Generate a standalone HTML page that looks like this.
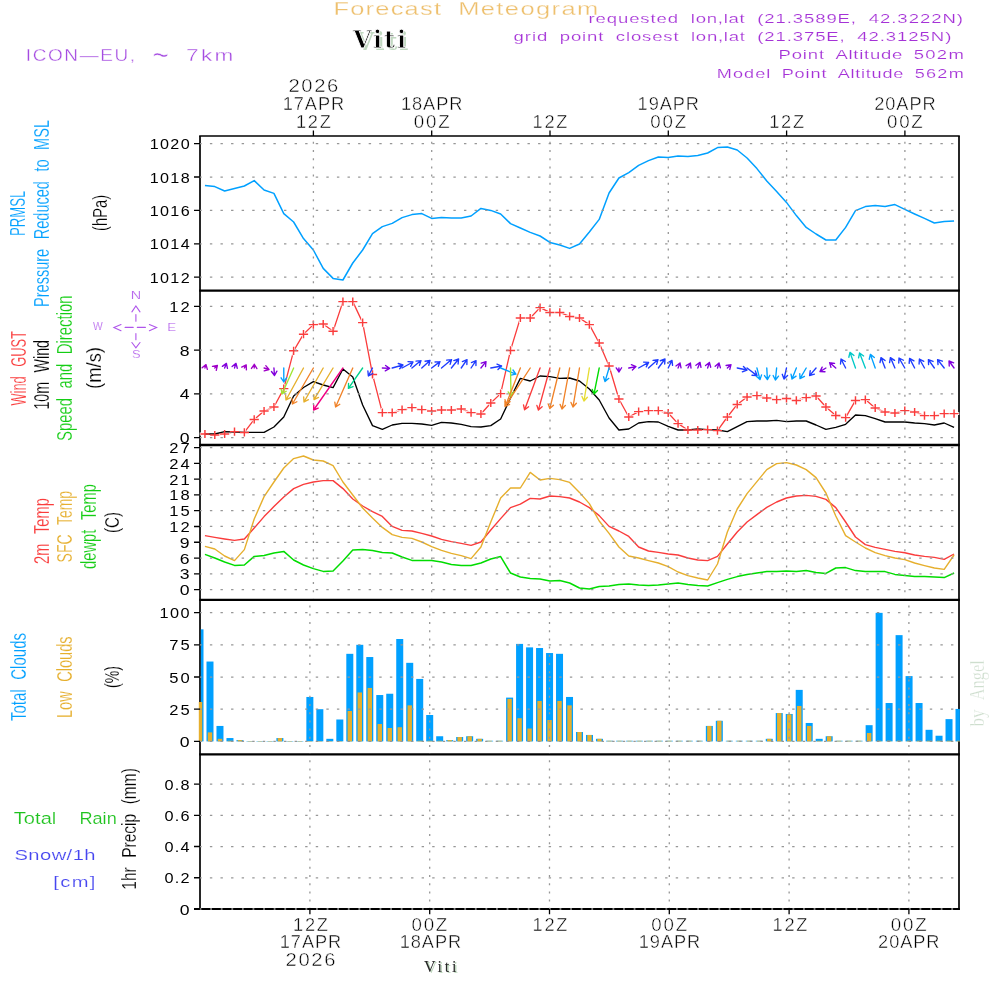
<!DOCTYPE html>
<html><head><meta charset="utf-8"><title>Forecast Meteogram - Viti</title>
<style>html,body{margin:0;padding:0;background:#fff;width:1000px;height:1000px;overflow:hidden}svg{display:block}</style>
</head><body>
<svg width="1000" height="1000" viewBox="0 0 1000 1000">
<rect x="0" y="0" width="1000" height="1000" fill="#fff"/>
<g stroke="#000" fill="none">
<line x1="199.2" y1="136" x2="959.8" y2="136" stroke-width="1.7"/>
<line x1="199.2" y1="290.6" x2="959.8" y2="290.6" stroke-width="2.3"/>
<line x1="199.2" y1="445" x2="959.8" y2="445" stroke-width="2.3"/>
<line x1="199.2" y1="599.8" x2="959.8" y2="599.8" stroke-width="2.3"/>
<line x1="199.2" y1="754.4" x2="959.8" y2="754.4" stroke-width="2.3"/>
<line x1="194" y1="909" x2="959.8" y2="909" stroke-width="2.1"/>
<line x1="200" y1="136" x2="200" y2="910" stroke-width="1.7"/>
<line x1="959" y1="136" x2="959" y2="910" stroke-width="1.7"/>
</g>
<line x1="199.6" y1="909" x2="959" y2="909" stroke="#a8a8a8" stroke-width="1.6" stroke-dasharray="1.8 8.787"/>
<rect x="200.85" y="629.34" width="2.65" height="112.06" fill="rgb(0,160,255)"/>
<rect x="198.8" y="701.99" width="3.4" height="39.41" fill="rgb(230,175,45)"/>
<rect x="206.49" y="661.54" width="7" height="79.86" fill="rgb(0,160,255)"/>
<rect x="207.79" y="732.38" width="4.4" height="9.02" fill="rgb(230,175,45)"/>
<rect x="216.47" y="725.94" width="7" height="15.46" fill="rgb(0,160,255)"/>
<rect x="217.77" y="738.82" width="4.4" height="2.58" fill="rgb(230,175,45)"/>
<rect x="226.46" y="738.05" width="7" height="3.35" fill="rgb(0,160,255)"/>
<rect x="227.76" y="740.76" width="4.4" height="0.64" fill="rgb(230,175,45)"/>
<rect x="236.45" y="740.11" width="7" height="1.29" fill="rgb(0,160,255)"/>
<rect x="237.75" y="740.11" width="4.4" height="1.29" fill="rgb(230,175,45)"/>
<rect x="246.44" y="741.01" width="7" height="0.39" fill="rgb(0,160,255)"/>
<rect x="247.74" y="741.01" width="4.4" height="0.39" fill="rgb(230,175,45)"/>
<rect x="256.42" y="741.01" width="7" height="0.39" fill="rgb(0,160,255)"/>
<rect x="257.72" y="741.01" width="4.4" height="0.39" fill="rgb(230,175,45)"/>
<rect x="266.41" y="741.01" width="7" height="0.39" fill="rgb(0,160,255)"/>
<rect x="267.71" y="741.01" width="4.4" height="0.39" fill="rgb(230,175,45)"/>
<rect x="276.4" y="738.05" width="7" height="3.35" fill="rgb(0,160,255)"/>
<rect x="277.7" y="738.05" width="4.4" height="3.35" fill="rgb(230,175,45)"/>
<rect x="286.38" y="741.01" width="7" height="0.39" fill="rgb(0,160,255)"/>
<rect x="287.68" y="741.01" width="4.4" height="0.39" fill="rgb(230,175,45)"/>
<rect x="296.37" y="741.01" width="7" height="0.39" fill="rgb(0,160,255)"/>
<rect x="297.67" y="741.01" width="4.4" height="0.39" fill="rgb(230,175,45)"/>
<rect x="306.36" y="696.96" width="7" height="44.44" fill="rgb(0,160,255)"/>
<rect x="307.66" y="741.01" width="4.4" height="0.39" fill="rgb(230,175,45)"/>
<rect x="316.34" y="709.2" width="7" height="32.2" fill="rgb(0,160,255)"/>
<rect x="317.64" y="741.01" width="4.4" height="0.39" fill="rgb(230,175,45)"/>
<rect x="326.33" y="738.82" width="7" height="2.58" fill="rgb(0,160,255)"/>
<rect x="327.63" y="741.01" width="4.4" height="0.39" fill="rgb(230,175,45)"/>
<rect x="336.32" y="719.5" width="7" height="21.9" fill="rgb(0,160,255)"/>
<rect x="337.62" y="741.01" width="4.4" height="0.39" fill="rgb(230,175,45)"/>
<rect x="346.31" y="653.82" width="7" height="87.58" fill="rgb(0,160,255)"/>
<rect x="347.61" y="711" width="4.4" height="30.4" fill="rgb(230,175,45)"/>
<rect x="356.29" y="644.8" width="7" height="96.6" fill="rgb(0,160,255)"/>
<rect x="357.59" y="692.46" width="4.4" height="48.94" fill="rgb(230,175,45)"/>
<rect x="366.28" y="657.04" width="7" height="84.36" fill="rgb(0,160,255)"/>
<rect x="367.58" y="687.95" width="4.4" height="53.45" fill="rgb(230,175,45)"/>
<rect x="376.27" y="695.03" width="7" height="46.37" fill="rgb(0,160,255)"/>
<rect x="377.57" y="724.01" width="4.4" height="17.39" fill="rgb(230,175,45)"/>
<rect x="386.25" y="693.74" width="7" height="47.66" fill="rgb(0,160,255)"/>
<rect x="387.55" y="728" width="4.4" height="13.4" fill="rgb(230,175,45)"/>
<rect x="396.24" y="639" width="7" height="102.4" fill="rgb(0,160,255)"/>
<rect x="397.54" y="727.23" width="4.4" height="14.17" fill="rgb(230,175,45)"/>
<rect x="406.23" y="662.83" width="7" height="78.57" fill="rgb(0,160,255)"/>
<rect x="407.53" y="705.34" width="4.4" height="36.06" fill="rgb(230,175,45)"/>
<rect x="416.21" y="678.93" width="7" height="62.47" fill="rgb(0,160,255)"/>
<rect x="417.51" y="740.76" width="4.4" height="0.64" fill="rgb(230,175,45)"/>
<rect x="426.2" y="715" width="7" height="26.4" fill="rgb(0,160,255)"/>
<rect x="427.5" y="740.76" width="4.4" height="0.64" fill="rgb(230,175,45)"/>
<rect x="436.19" y="736.25" width="7" height="5.15" fill="rgb(0,160,255)"/>
<rect x="437.49" y="740.76" width="4.4" height="0.64" fill="rgb(230,175,45)"/>
<rect x="446.18" y="740.11" width="7" height="1.29" fill="rgb(0,160,255)"/>
<rect x="447.48" y="740.11" width="4.4" height="1.29" fill="rgb(230,175,45)"/>
<rect x="456.16" y="737.02" width="7" height="4.38" fill="rgb(0,160,255)"/>
<rect x="457.46" y="737.02" width="4.4" height="4.38" fill="rgb(230,175,45)"/>
<rect x="466.15" y="736.25" width="7" height="5.15" fill="rgb(0,160,255)"/>
<rect x="467.45" y="736.25" width="4.4" height="5.15" fill="rgb(230,175,45)"/>
<rect x="476.14" y="738.82" width="7" height="2.58" fill="rgb(0,160,255)"/>
<rect x="477.44" y="738.82" width="4.4" height="2.58" fill="rgb(230,175,45)"/>
<rect x="486.12" y="740.76" width="7" height="0.64" fill="rgb(0,160,255)"/>
<rect x="487.42" y="740.76" width="4.4" height="0.64" fill="rgb(230,175,45)"/>
<rect x="496.11" y="740.76" width="7" height="0.64" fill="rgb(0,160,255)"/>
<rect x="497.41" y="740.76" width="4.4" height="0.64" fill="rgb(230,175,45)"/>
<rect x="506.1" y="697.61" width="7" height="43.79" fill="rgb(0,160,255)"/>
<rect x="507.4" y="698.9" width="4.4" height="42.5" fill="rgb(230,175,45)"/>
<rect x="516.08" y="643.9" width="7" height="97.5" fill="rgb(0,160,255)"/>
<rect x="517.38" y="718.22" width="4.4" height="23.18" fill="rgb(230,175,45)"/>
<rect x="526.07" y="647.38" width="7" height="94.02" fill="rgb(0,160,255)"/>
<rect x="527.37" y="728.52" width="4.4" height="12.88" fill="rgb(230,175,45)"/>
<rect x="536.06" y="648.02" width="7" height="93.38" fill="rgb(0,160,255)"/>
<rect x="537.36" y="700.96" width="4.4" height="40.44" fill="rgb(230,175,45)"/>
<rect x="546.05" y="653.04" width="7" height="88.36" fill="rgb(0,160,255)"/>
<rect x="547.35" y="720.02" width="4.4" height="21.38" fill="rgb(230,175,45)"/>
<rect x="556.03" y="653.82" width="7" height="87.58" fill="rgb(0,160,255)"/>
<rect x="557.33" y="700.96" width="4.4" height="40.44" fill="rgb(230,175,45)"/>
<rect x="566.02" y="696.96" width="7" height="44.44" fill="rgb(0,160,255)"/>
<rect x="567.32" y="705.34" width="4.4" height="36.06" fill="rgb(230,175,45)"/>
<rect x="576.01" y="732" width="7" height="9.4" fill="rgb(0,160,255)"/>
<rect x="577.31" y="732" width="4.4" height="9.4" fill="rgb(230,175,45)"/>
<rect x="585.99" y="734.96" width="7" height="6.44" fill="rgb(0,160,255)"/>
<rect x="587.29" y="734.96" width="4.4" height="6.44" fill="rgb(230,175,45)"/>
<rect x="595.98" y="738.82" width="7" height="2.58" fill="rgb(0,160,255)"/>
<rect x="597.28" y="738.82" width="4.4" height="2.58" fill="rgb(230,175,45)"/>
<rect x="605.97" y="740.76" width="7" height="0.64" fill="rgb(0,160,255)"/>
<rect x="607.27" y="740.76" width="4.4" height="0.64" fill="rgb(230,175,45)"/>
<rect x="615.95" y="740.76" width="7" height="0.64" fill="rgb(0,160,255)"/>
<rect x="617.25" y="740.76" width="4.4" height="0.64" fill="rgb(230,175,45)"/>
<rect x="625.94" y="740.76" width="7" height="0.64" fill="rgb(0,160,255)"/>
<rect x="627.24" y="740.76" width="4.4" height="0.64" fill="rgb(230,175,45)"/>
<rect x="635.93" y="740.76" width="7" height="0.64" fill="rgb(0,160,255)"/>
<rect x="637.23" y="740.76" width="4.4" height="0.64" fill="rgb(230,175,45)"/>
<rect x="645.91" y="740.76" width="7" height="0.64" fill="rgb(0,160,255)"/>
<rect x="647.21" y="740.76" width="4.4" height="0.64" fill="rgb(230,175,45)"/>
<rect x="655.9" y="740.76" width="7" height="0.64" fill="rgb(0,160,255)"/>
<rect x="657.2" y="740.76" width="4.4" height="0.64" fill="rgb(230,175,45)"/>
<rect x="665.89" y="740.76" width="7" height="0.64" fill="rgb(0,160,255)"/>
<rect x="667.19" y="740.76" width="4.4" height="0.64" fill="rgb(230,175,45)"/>
<rect x="675.88" y="740.76" width="7" height="0.64" fill="rgb(0,160,255)"/>
<rect x="677.18" y="740.76" width="4.4" height="0.64" fill="rgb(230,175,45)"/>
<rect x="685.86" y="740.76" width="7" height="0.64" fill="rgb(0,160,255)"/>
<rect x="687.16" y="740.76" width="4.4" height="0.64" fill="rgb(230,175,45)"/>
<rect x="695.85" y="740.76" width="7" height="0.64" fill="rgb(0,160,255)"/>
<rect x="697.15" y="740.76" width="4.4" height="0.64" fill="rgb(230,175,45)"/>
<rect x="705.84" y="725.94" width="7" height="15.46" fill="rgb(0,160,255)"/>
<rect x="707.14" y="725.94" width="4.4" height="15.46" fill="rgb(230,175,45)"/>
<rect x="715.82" y="720.79" width="7" height="20.61" fill="rgb(0,160,255)"/>
<rect x="717.12" y="720.79" width="4.4" height="20.61" fill="rgb(230,175,45)"/>
<rect x="725.81" y="740.76" width="7" height="0.64" fill="rgb(0,160,255)"/>
<rect x="727.11" y="740.76" width="4.4" height="0.64" fill="rgb(230,175,45)"/>
<rect x="735.8" y="740.76" width="7" height="0.64" fill="rgb(0,160,255)"/>
<rect x="737.1" y="740.76" width="4.4" height="0.64" fill="rgb(230,175,45)"/>
<rect x="745.78" y="740.76" width="7" height="0.64" fill="rgb(0,160,255)"/>
<rect x="747.08" y="740.76" width="4.4" height="0.64" fill="rgb(230,175,45)"/>
<rect x="755.77" y="740.76" width="7" height="0.64" fill="rgb(0,160,255)"/>
<rect x="757.07" y="740.76" width="4.4" height="0.64" fill="rgb(230,175,45)"/>
<rect x="765.76" y="738.82" width="7" height="2.58" fill="rgb(0,160,255)"/>
<rect x="767.06" y="738.82" width="4.4" height="2.58" fill="rgb(230,175,45)"/>
<rect x="775.75" y="713.06" width="7" height="28.34" fill="rgb(0,160,255)"/>
<rect x="777.05" y="713.06" width="4.4" height="28.34" fill="rgb(230,175,45)"/>
<rect x="785.73" y="713.97" width="7" height="27.43" fill="rgb(0,160,255)"/>
<rect x="787.03" y="714.35" width="4.4" height="27.05" fill="rgb(230,175,45)"/>
<rect x="795.72" y="689.88" width="7" height="51.52" fill="rgb(0,160,255)"/>
<rect x="797.02" y="705.98" width="4.4" height="35.42" fill="rgb(230,175,45)"/>
<rect x="805.71" y="722.98" width="7" height="18.42" fill="rgb(0,160,255)"/>
<rect x="807.01" y="725.94" width="4.4" height="15.46" fill="rgb(230,175,45)"/>
<rect x="815.69" y="738.82" width="7" height="2.58" fill="rgb(0,160,255)"/>
<rect x="816.99" y="740.76" width="4.4" height="0.64" fill="rgb(230,175,45)"/>
<rect x="825.68" y="736.25" width="7" height="5.15" fill="rgb(0,160,255)"/>
<rect x="826.98" y="736.25" width="4.4" height="5.15" fill="rgb(230,175,45)"/>
<rect x="835.67" y="740.76" width="7" height="0.64" fill="rgb(0,160,255)"/>
<rect x="836.97" y="740.76" width="4.4" height="0.64" fill="rgb(230,175,45)"/>
<rect x="845.65" y="740.76" width="7" height="0.64" fill="rgb(0,160,255)"/>
<rect x="846.95" y="740.76" width="4.4" height="0.64" fill="rgb(230,175,45)"/>
<rect x="855.64" y="740.76" width="7" height="0.64" fill="rgb(0,160,255)"/>
<rect x="856.94" y="740.76" width="4.4" height="0.64" fill="rgb(230,175,45)"/>
<rect x="865.63" y="725.17" width="7" height="16.23" fill="rgb(0,160,255)"/>
<rect x="866.93" y="733.03" width="4.4" height="8.37" fill="rgb(230,175,45)"/>
<rect x="875.62" y="612.86" width="7" height="128.54" fill="rgb(0,160,255)"/>
<rect x="876.92" y="740.76" width="4.4" height="0.64" fill="rgb(230,175,45)"/>
<rect x="885.6" y="703.02" width="7" height="38.38" fill="rgb(0,160,255)"/>
<rect x="886.9" y="740.76" width="4.4" height="0.64" fill="rgb(230,175,45)"/>
<rect x="895.59" y="635.14" width="7" height="106.26" fill="rgb(0,160,255)"/>
<rect x="896.89" y="740.76" width="4.4" height="0.64" fill="rgb(230,175,45)"/>
<rect x="905.58" y="676.1" width="7" height="65.3" fill="rgb(0,160,255)"/>
<rect x="906.88" y="740.76" width="4.4" height="0.64" fill="rgb(230,175,45)"/>
<rect x="915.56" y="703.02" width="7" height="38.38" fill="rgb(0,160,255)"/>
<rect x="916.86" y="740.76" width="4.4" height="0.64" fill="rgb(230,175,45)"/>
<rect x="925.55" y="729.81" width="7" height="11.59" fill="rgb(0,160,255)"/>
<rect x="926.85" y="740.76" width="4.4" height="0.64" fill="rgb(230,175,45)"/>
<rect x="935.54" y="735.73" width="7" height="5.67" fill="rgb(0,160,255)"/>
<rect x="936.84" y="740.76" width="4.4" height="0.64" fill="rgb(230,175,45)"/>
<rect x="945.52" y="719.12" width="7" height="22.28" fill="rgb(0,160,255)"/>
<rect x="946.82" y="740.76" width="4.4" height="0.64" fill="rgb(230,175,45)"/>
<rect x="955.51" y="708.94" width="4.39" height="32.46" fill="rgb(0,160,255)"/>
<rect x="956.81" y="740.76" width="3.09" height="0.64" fill="rgb(230,175,45)"/>
<polyline points="204.93,185.4 214.79,186.6 224.64,191 234.5,188.6 244.36,186 254.21,180.6 264.07,190 273.93,193.4 283.78,213.6 293.64,222 303.5,238.6 313.36,250 323.21,268.4 333.07,278.4 342.93,280 352.78,263 362.64,250 372.5,233.6 382.35,226.6 392.21,223.4 402.07,217.6 411.93,214.6 421.78,213.6 431.64,218.4 441.5,217.6 451.35,218 461.21,218 471.07,216 480.92,208.4 490.78,210.4 500.64,214 510.5,223.6 520.35,228 530.21,232.4 540.07,236 549.92,242.4 559.78,245 569.64,248.4 579.49,244 589.35,232 599.21,219.4 609.07,193 618.92,178 628.78,172.6 638.64,165.4 648.49,160.6 658.35,157 668.21,157.6 678.06,156 687.92,156.4 697.78,155.6 707.64,153 717.49,147.6 727.35,147 737.21,150 747.06,158 756.92,168.6 766.78,181 776.63,191.6 786.49,202.4 796.35,215.6 806.21,227.4 816.06,234 825.92,240 835.78,240 845.63,227.4 855.49,210.6 865.35,206.6 875.2,205.6 885.06,206.6 894.92,204.6 904.78,209.4 914.63,214 924.49,218.4 934.35,223 944.2,221.6 954.06,221" fill="none" stroke="rgb(0,160,255)" stroke-width="1.5" stroke-linejoin="round"/>
<polyline points="204.93,434 214.79,435 224.64,434 234.5,431.6 244.36,432.4 254.21,419.4 264.07,411 273.93,407 283.78,388.6 293.64,350.8 303.5,334.2 313.36,324.6 323.21,324 333.07,331.2 342.93,301.6 352.78,301.6 362.64,322.6 372.5,374.4 382.35,412.6 392.21,412.6 402.07,409.6 411.93,407.6 421.78,409.6 431.64,411 441.5,410 451.35,410 461.21,409 471.07,412.6 480.92,414 490.78,403 500.64,393.6 510.5,350.4 520.35,318 530.21,318 540.07,307.6 549.92,312.4 559.78,312.4 569.64,316.4 579.49,318 589.35,324.6 599.21,343 609.07,366 618.92,399 628.78,417 638.64,411.6 648.49,410.6 658.35,410.6 668.21,413 678.06,423.6 687.92,430 697.78,430 707.64,429.6 717.49,430.6 727.35,417 737.21,404.4 747.06,397 756.92,395.6 766.78,398 776.63,399.6 786.49,398.4 796.35,400.4 806.21,397.6 816.06,396 825.92,407 835.78,415.4 845.63,417.6 855.49,400.4 865.35,399.6 875.2,408 885.06,412 894.92,413 904.78,410.6 914.63,412 924.49,415.6 934.35,415.6 944.2,413.6 954.06,413.6" fill="none" stroke="rgb(250,60,60)" stroke-width="1.3" stroke-linejoin="round"/>
<path d="M199.73 434H210.13M204.93 429.3V438.7" stroke="#fff" stroke-width="2.8"/>
<path d="M209.59 435H219.99M214.79 430.3V439.7" stroke="#fff" stroke-width="2.8"/>
<path d="M219.44 434H229.84M224.64 429.3V438.7" stroke="#fff" stroke-width="2.8"/>
<path d="M229.3 431.6H239.7M234.5 426.9V436.3" stroke="#fff" stroke-width="2.8"/>
<path d="M239.16 432.4H249.56M244.36 427.7V437.1" stroke="#fff" stroke-width="2.8"/>
<path d="M249.01 419.4H259.41M254.21 414.7V424.1" stroke="#fff" stroke-width="2.8"/>
<path d="M258.87 411H269.27M264.07 406.3V415.7" stroke="#fff" stroke-width="2.8"/>
<path d="M268.73 407H279.13M273.93 402.3V411.7" stroke="#fff" stroke-width="2.8"/>
<path d="M278.58 388.6H288.98M283.78 383.9V393.3" stroke="#fff" stroke-width="2.8"/>
<path d="M288.44 350.8H298.84M293.64 346.1V355.5" stroke="#fff" stroke-width="2.8"/>
<path d="M298.3 334.2H308.7M303.5 329.5V338.9" stroke="#fff" stroke-width="2.8"/>
<path d="M308.16 324.6H318.56M313.36 319.9V329.3" stroke="#fff" stroke-width="2.8"/>
<path d="M318.01 324H328.41M323.21 319.3V328.7" stroke="#fff" stroke-width="2.8"/>
<path d="M327.87 331.2H338.27M333.07 326.5V335.9" stroke="#fff" stroke-width="2.8"/>
<path d="M337.73 301.6H348.13M342.93 296.9V306.3" stroke="#fff" stroke-width="2.8"/>
<path d="M347.58 301.6H357.98M352.78 296.9V306.3" stroke="#fff" stroke-width="2.8"/>
<path d="M357.44 322.6H367.84M362.64 317.9V327.3" stroke="#fff" stroke-width="2.8"/>
<path d="M367.3 374.4H377.7M372.5 369.7V379.1" stroke="#fff" stroke-width="2.8"/>
<path d="M377.15 412.6H387.55M382.35 407.9V417.3" stroke="#fff" stroke-width="2.8"/>
<path d="M387.01 412.6H397.41M392.21 407.9V417.3" stroke="#fff" stroke-width="2.8"/>
<path d="M396.87 409.6H407.27M402.07 404.9V414.3" stroke="#fff" stroke-width="2.8"/>
<path d="M406.73 407.6H417.13M411.93 402.9V412.3" stroke="#fff" stroke-width="2.8"/>
<path d="M416.58 409.6H426.98M421.78 404.9V414.3" stroke="#fff" stroke-width="2.8"/>
<path d="M426.44 411H436.84M431.64 406.3V415.7" stroke="#fff" stroke-width="2.8"/>
<path d="M436.3 410H446.7M441.5 405.3V414.7" stroke="#fff" stroke-width="2.8"/>
<path d="M446.15 410H456.55M451.35 405.3V414.7" stroke="#fff" stroke-width="2.8"/>
<path d="M456.01 409H466.41M461.21 404.3V413.7" stroke="#fff" stroke-width="2.8"/>
<path d="M465.87 412.6H476.27M471.07 407.9V417.3" stroke="#fff" stroke-width="2.8"/>
<path d="M475.72 414H486.12M480.92 409.3V418.7" stroke="#fff" stroke-width="2.8"/>
<path d="M485.58 403H495.98M490.78 398.3V407.7" stroke="#fff" stroke-width="2.8"/>
<path d="M495.44 393.6H505.84M500.64 388.9V398.3" stroke="#fff" stroke-width="2.8"/>
<path d="M505.3 350.4H515.7M510.5 345.7V355.1" stroke="#fff" stroke-width="2.8"/>
<path d="M515.15 318H525.55M520.35 313.3V322.7" stroke="#fff" stroke-width="2.8"/>
<path d="M525.01 318H535.41M530.21 313.3V322.7" stroke="#fff" stroke-width="2.8"/>
<path d="M534.87 307.6H545.27M540.07 302.9V312.3" stroke="#fff" stroke-width="2.8"/>
<path d="M544.72 312.4H555.12M549.92 307.7V317.1" stroke="#fff" stroke-width="2.8"/>
<path d="M554.58 312.4H564.98M559.78 307.7V317.1" stroke="#fff" stroke-width="2.8"/>
<path d="M564.44 316.4H574.84M569.64 311.7V321.1" stroke="#fff" stroke-width="2.8"/>
<path d="M574.29 318H584.69M579.49 313.3V322.7" stroke="#fff" stroke-width="2.8"/>
<path d="M584.15 324.6H594.55M589.35 319.9V329.3" stroke="#fff" stroke-width="2.8"/>
<path d="M594.01 343H604.41M599.21 338.3V347.7" stroke="#fff" stroke-width="2.8"/>
<path d="M603.87 366H614.27M609.07 361.3V370.7" stroke="#fff" stroke-width="2.8"/>
<path d="M613.72 399H624.12M618.92 394.3V403.7" stroke="#fff" stroke-width="2.8"/>
<path d="M623.58 417H633.98M628.78 412.3V421.7" stroke="#fff" stroke-width="2.8"/>
<path d="M633.44 411.6H643.84M638.64 406.9V416.3" stroke="#fff" stroke-width="2.8"/>
<path d="M643.29 410.6H653.69M648.49 405.9V415.3" stroke="#fff" stroke-width="2.8"/>
<path d="M653.15 410.6H663.55M658.35 405.9V415.3" stroke="#fff" stroke-width="2.8"/>
<path d="M663.01 413H673.41M668.21 408.3V417.7" stroke="#fff" stroke-width="2.8"/>
<path d="M672.86 423.6H683.26M678.06 418.9V428.3" stroke="#fff" stroke-width="2.8"/>
<path d="M682.72 430H693.12M687.92 425.3V434.7" stroke="#fff" stroke-width="2.8"/>
<path d="M692.58 430H702.98M697.78 425.3V434.7" stroke="#fff" stroke-width="2.8"/>
<path d="M702.44 429.6H712.84M707.64 424.9V434.3" stroke="#fff" stroke-width="2.8"/>
<path d="M712.29 430.6H722.69M717.49 425.9V435.3" stroke="#fff" stroke-width="2.8"/>
<path d="M722.15 417H732.55M727.35 412.3V421.7" stroke="#fff" stroke-width="2.8"/>
<path d="M732.01 404.4H742.41M737.21 399.7V409.1" stroke="#fff" stroke-width="2.8"/>
<path d="M741.86 397H752.26M747.06 392.3V401.7" stroke="#fff" stroke-width="2.8"/>
<path d="M751.72 395.6H762.12M756.92 390.9V400.3" stroke="#fff" stroke-width="2.8"/>
<path d="M761.58 398H771.98M766.78 393.3V402.7" stroke="#fff" stroke-width="2.8"/>
<path d="M771.43 399.6H781.83M776.63 394.9V404.3" stroke="#fff" stroke-width="2.8"/>
<path d="M781.29 398.4H791.69M786.49 393.7V403.1" stroke="#fff" stroke-width="2.8"/>
<path d="M791.15 400.4H801.55M796.35 395.7V405.1" stroke="#fff" stroke-width="2.8"/>
<path d="M801.01 397.6H811.41M806.21 392.9V402.3" stroke="#fff" stroke-width="2.8"/>
<path d="M810.86 396H821.26M816.06 391.3V400.7" stroke="#fff" stroke-width="2.8"/>
<path d="M820.72 407H831.12M825.92 402.3V411.7" stroke="#fff" stroke-width="2.8"/>
<path d="M830.58 415.4H840.98M835.78 410.7V420.1" stroke="#fff" stroke-width="2.8"/>
<path d="M840.43 417.6H850.83M845.63 412.9V422.3" stroke="#fff" stroke-width="2.8"/>
<path d="M850.29 400.4H860.69M855.49 395.7V405.1" stroke="#fff" stroke-width="2.8"/>
<path d="M860.15 399.6H870.55M865.35 394.9V404.3" stroke="#fff" stroke-width="2.8"/>
<path d="M870 408H880.4M875.2 403.3V412.7" stroke="#fff" stroke-width="2.8"/>
<path d="M879.86 412H890.26M885.06 407.3V416.7" stroke="#fff" stroke-width="2.8"/>
<path d="M889.72 413H900.12M894.92 408.3V417.7" stroke="#fff" stroke-width="2.8"/>
<path d="M899.58 410.6H909.98M904.78 405.9V415.3" stroke="#fff" stroke-width="2.8"/>
<path d="M909.43 412H919.83M914.63 407.3V416.7" stroke="#fff" stroke-width="2.8"/>
<path d="M919.29 415.6H929.69M924.49 410.9V420.3" stroke="#fff" stroke-width="2.8"/>
<path d="M929.15 415.6H939.55M934.35 410.9V420.3" stroke="#fff" stroke-width="2.8"/>
<path d="M939 413.6H949.4M944.2 408.9V418.3" stroke="#fff" stroke-width="2.8"/>
<path d="M948.86 413.6H959.26M954.06 408.9V418.3" stroke="#fff" stroke-width="2.8"/>
<polyline points="204.93,434 214.79,434 224.64,431.6 234.5,432 244.36,432.4 254.21,432.4 264.07,432.4 273.93,427 283.78,417 293.64,396 303.5,387.5 313.36,381.6 323.21,385 333.07,387.6 342.93,369 352.78,377 362.64,405 372.5,425.6 382.35,429.4 392.21,425 402.07,423.4 411.93,423.4 421.78,424 431.64,425.4 441.5,422.4 451.35,423 461.21,424.4 471.07,426.6 480.92,427 490.78,425.6 500.64,419 510.5,398 520.35,378.4 530.21,381 540.07,376 549.92,376.6 559.78,378.4 569.64,378 579.49,381 589.35,389 599.21,400 609.07,418 618.92,430 628.78,429 638.64,423 648.49,421.6 658.35,422 668.21,426.3 678.06,430 687.92,430 697.78,429 707.64,429.6 717.49,430 727.35,431.6 737.21,426.6 747.06,421.6 756.92,421 766.78,421 776.63,420.4 786.49,421.6 796.35,421 806.21,421 816.06,425 825.92,429.4 835.78,427.4 845.63,424.3 855.49,415 865.35,415.6 875.2,418.6 885.06,422 894.92,422 904.78,422 914.63,423 924.49,423.6 934.35,425 944.2,423 954.06,427.4" fill="none" stroke="#000" stroke-width="1.35" stroke-linejoin="round"/>
<path d="M200.33 434H209.53M204.93 429.9V438.1" stroke="rgb(250,60,60)" stroke-width="1.45"/>
<path d="M210.19 435H219.39M214.79 430.9V439.1" stroke="rgb(250,60,60)" stroke-width="1.45"/>
<path d="M220.04 434H229.24M224.64 429.9V438.1" stroke="rgb(250,60,60)" stroke-width="1.45"/>
<path d="M229.9 431.6H239.1M234.5 427.5V435.7" stroke="rgb(250,60,60)" stroke-width="1.45"/>
<path d="M239.76 432.4H248.96M244.36 428.3V436.5" stroke="rgb(250,60,60)" stroke-width="1.45"/>
<path d="M249.61 419.4H258.81M254.21 415.3V423.5" stroke="rgb(250,60,60)" stroke-width="1.45"/>
<path d="M259.47 411H268.67M264.07 406.9V415.1" stroke="rgb(250,60,60)" stroke-width="1.45"/>
<path d="M269.33 407H278.53M273.93 402.9V411.1" stroke="rgb(250,60,60)" stroke-width="1.45"/>
<path d="M279.18 388.6H288.38M283.78 384.5V392.7" stroke="rgb(250,60,60)" stroke-width="1.45"/>
<path d="M289.04 350.8H298.24M293.64 346.7V354.9" stroke="rgb(250,60,60)" stroke-width="1.45"/>
<path d="M298.9 334.2H308.1M303.5 330.1V338.3" stroke="rgb(250,60,60)" stroke-width="1.45"/>
<path d="M308.76 324.6H317.96M313.36 320.5V328.7" stroke="rgb(250,60,60)" stroke-width="1.45"/>
<path d="M318.61 324H327.81M323.21 319.9V328.1" stroke="rgb(250,60,60)" stroke-width="1.45"/>
<path d="M328.47 331.2H337.67M333.07 327.1V335.3" stroke="rgb(250,60,60)" stroke-width="1.45"/>
<path d="M338.33 301.6H347.53M342.93 297.5V305.7" stroke="rgb(250,60,60)" stroke-width="1.45"/>
<path d="M348.18 301.6H357.38M352.78 297.5V305.7" stroke="rgb(250,60,60)" stroke-width="1.45"/>
<path d="M358.04 322.6H367.24M362.64 318.5V326.7" stroke="rgb(250,60,60)" stroke-width="1.45"/>
<path d="M367.9 374.4H377.1M372.5 370.3V378.5" stroke="rgb(250,60,60)" stroke-width="1.45"/>
<path d="M377.75 412.6H386.95M382.35 408.5V416.7" stroke="rgb(250,60,60)" stroke-width="1.45"/>
<path d="M387.61 412.6H396.81M392.21 408.5V416.7" stroke="rgb(250,60,60)" stroke-width="1.45"/>
<path d="M397.47 409.6H406.67M402.07 405.5V413.7" stroke="rgb(250,60,60)" stroke-width="1.45"/>
<path d="M407.33 407.6H416.53M411.93 403.5V411.7" stroke="rgb(250,60,60)" stroke-width="1.45"/>
<path d="M417.18 409.6H426.38M421.78 405.5V413.7" stroke="rgb(250,60,60)" stroke-width="1.45"/>
<path d="M427.04 411H436.24M431.64 406.9V415.1" stroke="rgb(250,60,60)" stroke-width="1.45"/>
<path d="M436.9 410H446.1M441.5 405.9V414.1" stroke="rgb(250,60,60)" stroke-width="1.45"/>
<path d="M446.75 410H455.95M451.35 405.9V414.1" stroke="rgb(250,60,60)" stroke-width="1.45"/>
<path d="M456.61 409H465.81M461.21 404.9V413.1" stroke="rgb(250,60,60)" stroke-width="1.45"/>
<path d="M466.47 412.6H475.67M471.07 408.5V416.7" stroke="rgb(250,60,60)" stroke-width="1.45"/>
<path d="M476.32 414H485.52M480.92 409.9V418.1" stroke="rgb(250,60,60)" stroke-width="1.45"/>
<path d="M486.18 403H495.38M490.78 398.9V407.1" stroke="rgb(250,60,60)" stroke-width="1.45"/>
<path d="M496.04 393.6H505.24M500.64 389.5V397.7" stroke="rgb(250,60,60)" stroke-width="1.45"/>
<path d="M505.9 350.4H515.1M510.5 346.3V354.5" stroke="rgb(250,60,60)" stroke-width="1.45"/>
<path d="M515.75 318H524.95M520.35 313.9V322.1" stroke="rgb(250,60,60)" stroke-width="1.45"/>
<path d="M525.61 318H534.81M530.21 313.9V322.1" stroke="rgb(250,60,60)" stroke-width="1.45"/>
<path d="M535.47 307.6H544.67M540.07 303.5V311.7" stroke="rgb(250,60,60)" stroke-width="1.45"/>
<path d="M545.32 312.4H554.52M549.92 308.3V316.5" stroke="rgb(250,60,60)" stroke-width="1.45"/>
<path d="M555.18 312.4H564.38M559.78 308.3V316.5" stroke="rgb(250,60,60)" stroke-width="1.45"/>
<path d="M565.04 316.4H574.24M569.64 312.3V320.5" stroke="rgb(250,60,60)" stroke-width="1.45"/>
<path d="M574.89 318H584.09M579.49 313.9V322.1" stroke="rgb(250,60,60)" stroke-width="1.45"/>
<path d="M584.75 324.6H593.95M589.35 320.5V328.7" stroke="rgb(250,60,60)" stroke-width="1.45"/>
<path d="M594.61 343H603.81M599.21 338.9V347.1" stroke="rgb(250,60,60)" stroke-width="1.45"/>
<path d="M604.47 366H613.67M609.07 361.9V370.1" stroke="rgb(250,60,60)" stroke-width="1.45"/>
<path d="M614.32 399H623.52M618.92 394.9V403.1" stroke="rgb(250,60,60)" stroke-width="1.45"/>
<path d="M624.18 417H633.38M628.78 412.9V421.1" stroke="rgb(250,60,60)" stroke-width="1.45"/>
<path d="M634.04 411.6H643.24M638.64 407.5V415.7" stroke="rgb(250,60,60)" stroke-width="1.45"/>
<path d="M643.89 410.6H653.09M648.49 406.5V414.7" stroke="rgb(250,60,60)" stroke-width="1.45"/>
<path d="M653.75 410.6H662.95M658.35 406.5V414.7" stroke="rgb(250,60,60)" stroke-width="1.45"/>
<path d="M663.61 413H672.81M668.21 408.9V417.1" stroke="rgb(250,60,60)" stroke-width="1.45"/>
<path d="M673.46 423.6H682.66M678.06 419.5V427.7" stroke="rgb(250,60,60)" stroke-width="1.45"/>
<path d="M683.32 430H692.52M687.92 425.9V434.1" stroke="rgb(250,60,60)" stroke-width="1.45"/>
<path d="M693.18 430H702.38M697.78 425.9V434.1" stroke="rgb(250,60,60)" stroke-width="1.45"/>
<path d="M703.04 429.6H712.24M707.64 425.5V433.7" stroke="rgb(250,60,60)" stroke-width="1.45"/>
<path d="M712.89 430.6H722.09M717.49 426.5V434.7" stroke="rgb(250,60,60)" stroke-width="1.45"/>
<path d="M722.75 417H731.95M727.35 412.9V421.1" stroke="rgb(250,60,60)" stroke-width="1.45"/>
<path d="M732.61 404.4H741.81M737.21 400.3V408.5" stroke="rgb(250,60,60)" stroke-width="1.45"/>
<path d="M742.46 397H751.66M747.06 392.9V401.1" stroke="rgb(250,60,60)" stroke-width="1.45"/>
<path d="M752.32 395.6H761.52M756.92 391.5V399.7" stroke="rgb(250,60,60)" stroke-width="1.45"/>
<path d="M762.18 398H771.38M766.78 393.9V402.1" stroke="rgb(250,60,60)" stroke-width="1.45"/>
<path d="M772.03 399.6H781.23M776.63 395.5V403.7" stroke="rgb(250,60,60)" stroke-width="1.45"/>
<path d="M781.89 398.4H791.09M786.49 394.3V402.5" stroke="rgb(250,60,60)" stroke-width="1.45"/>
<path d="M791.75 400.4H800.95M796.35 396.3V404.5" stroke="rgb(250,60,60)" stroke-width="1.45"/>
<path d="M801.61 397.6H810.81M806.21 393.5V401.7" stroke="rgb(250,60,60)" stroke-width="1.45"/>
<path d="M811.46 396H820.66M816.06 391.9V400.1" stroke="rgb(250,60,60)" stroke-width="1.45"/>
<path d="M821.32 407H830.52M825.92 402.9V411.1" stroke="rgb(250,60,60)" stroke-width="1.45"/>
<path d="M831.18 415.4H840.38M835.78 411.3V419.5" stroke="rgb(250,60,60)" stroke-width="1.45"/>
<path d="M841.03 417.6H850.23M845.63 413.5V421.7" stroke="rgb(250,60,60)" stroke-width="1.45"/>
<path d="M850.89 400.4H860.09M855.49 396.3V404.5" stroke="rgb(250,60,60)" stroke-width="1.45"/>
<path d="M860.75 399.6H869.95M865.35 395.5V403.7" stroke="rgb(250,60,60)" stroke-width="1.45"/>
<path d="M870.6 408H879.8M875.2 403.9V412.1" stroke="rgb(250,60,60)" stroke-width="1.45"/>
<path d="M880.46 412H889.66M885.06 407.9V416.1" stroke="rgb(250,60,60)" stroke-width="1.45"/>
<path d="M890.32 413H899.52M894.92 408.9V417.1" stroke="rgb(250,60,60)" stroke-width="1.45"/>
<path d="M900.18 410.6H909.38M904.78 406.5V414.7" stroke="rgb(250,60,60)" stroke-width="1.45"/>
<path d="M910.03 412H919.23M914.63 407.9V416.1" stroke="rgb(250,60,60)" stroke-width="1.45"/>
<path d="M919.89 415.6H929.09M924.49 411.5V419.7" stroke="rgb(250,60,60)" stroke-width="1.45"/>
<path d="M929.75 415.6H938.95M934.35 411.5V419.7" stroke="rgb(250,60,60)" stroke-width="1.45"/>
<path d="M939.6 413.6H948.8M944.2 409.5V417.7" stroke="rgb(250,60,60)" stroke-width="1.45"/>
<path d="M949.46 413.6H958.66M954.06 409.5V417.7" stroke="rgb(250,60,60)" stroke-width="1.45"/>
<path d="M204.93 368L206 364.6M207.34 369.42L206 364.6L202.14 367.78" fill="none" stroke="rgb(160,0,200)" stroke-width="1.35" stroke-linecap="round" stroke-linejoin="round"/>
<path d="M214.79 368L217.4 365.5M216.25 370.37L217.4 365.5L212.49 366.43" fill="none" stroke="rgb(160,0,200)" stroke-width="1.35" stroke-linecap="round" stroke-linejoin="round"/>
<path d="M224.64 368L226.4 363.4M227.45 368.29L226.4 363.4L222.36 366.35" fill="none" stroke="rgb(130,0,220)" stroke-width="1.35" stroke-linecap="round" stroke-linejoin="round"/>
<path d="M234.5 368L236 363.4M237.29 368.23L236 363.4L232.11 366.54" fill="none" stroke="rgb(130,0,220)" stroke-width="1.35" stroke-linecap="round" stroke-linejoin="round"/>
<path d="M244.36 368L246.2 364.9M246.4 369.9L246.2 364.9L241.72 367.11" fill="none" stroke="rgb(160,0,200)" stroke-width="1.35" stroke-linecap="round" stroke-linejoin="round"/>
<path d="M254.21 368L254.3 364.3M256.92 368.56L254.3 364.3L251.48 368.43" fill="none" stroke="rgb(160,0,200)" stroke-width="1.35" stroke-linecap="round" stroke-linejoin="round"/>
<path d="M264.07 368L269 369.5M264.2 370.88L269 369.5L265.78 365.67" fill="none" stroke="rgb(160,0,200)" stroke-width="1.35" stroke-linecap="round" stroke-linejoin="round"/>
<path d="M273.93 368L274.5 375.5M271.47 371.53L274.5 375.5L276.9 371.11" fill="none" stroke="rgb(130,0,220)" stroke-width="1.35" stroke-linecap="round" stroke-linejoin="round"/>
<path d="M283.78 368L283.8 382M281.07 377.81L283.8 382L286.52 377.8" fill="none" stroke="rgb(0,160,255)" stroke-width="1.35" stroke-linecap="round" stroke-linejoin="round"/>
<path d="M293.64 368L282 394M281.23 389.06L282 394L286.2 391.29" fill="none" stroke="rgb(160,230,50)" stroke-width="1.35" stroke-linecap="round" stroke-linejoin="round"/>
<path d="M303.5 368L286 400M285.62 395.01L286 400L290.4 397.63" fill="none" stroke="rgb(230,175,45)" stroke-width="1.35" stroke-linecap="round" stroke-linejoin="round"/>
<path d="M313.36 368L292.4 404M292.16 399.01L292.4 404L296.86 401.75" fill="none" stroke="rgb(240,130,40)" stroke-width="1.35" stroke-linecap="round" stroke-linejoin="round"/>
<path d="M323.21 368L304 402M303.69 397.01L304 402L308.43 399.69" fill="none" stroke="rgb(230,175,45)" stroke-width="1.35" stroke-linecap="round" stroke-linejoin="round"/>
<path d="M333.07 368L314 399.6M313.84 394.6L314 399.6L318.5 397.42" fill="none" stroke="rgb(230,175,45)" stroke-width="1.35" stroke-linecap="round" stroke-linejoin="round"/>
<path d="M342.93 368L313.6 410M313.77 405L313.6 410L318.23 408.12" fill="none" stroke="rgb(240,0,130)" stroke-width="1.35" stroke-linecap="round" stroke-linejoin="round"/>
<path d="M352.78 368L335.6 407M334.8 402.06L335.6 407L339.78 404.26" fill="none" stroke="rgb(240,130,40)" stroke-width="1.35" stroke-linecap="round" stroke-linejoin="round"/>
<path d="M362.64 368L348.4 388.4M348.57 383.4L348.4 388.4L353.03 386.52" fill="none" stroke="rgb(0,210,140)" stroke-width="1.35" stroke-linecap="round" stroke-linejoin="round"/>
<path d="M372.5 368L368.4 376M367.89 371.03L368.4 376L372.74 373.51" fill="none" stroke="rgb(30,60,255)" stroke-width="1.35" stroke-linecap="round" stroke-linejoin="round"/>
<path d="M382.35 368L389.6 368.4M385.26 370.89L389.6 368.4L385.56 365.45" fill="none" stroke="rgb(130,0,220)" stroke-width="1.35" stroke-linecap="round" stroke-linejoin="round"/>
<path d="M392.21 368L403 365M399.69 368.75L403 365L398.23 363.5" fill="none" stroke="rgb(30,60,255)" stroke-width="1.35" stroke-linecap="round" stroke-linejoin="round"/>
<path d="M402.07 368L413 362M410.63 366.4L413 362L408.01 361.63" fill="none" stroke="rgb(30,60,255)" stroke-width="1.35" stroke-linecap="round" stroke-linejoin="round"/>
<path d="M411.93 368L421 360.6M419.47 365.36L421 360.6L416.03 361.14" fill="none" stroke="rgb(30,60,255)" stroke-width="1.35" stroke-linecap="round" stroke-linejoin="round"/>
<path d="M421.78 368L430 360.4M428.77 365.25L430 360.4L425.07 361.25" fill="none" stroke="rgb(30,60,255)" stroke-width="1.35" stroke-linecap="round" stroke-linejoin="round"/>
<path d="M431.64 368L440 361.6M438.33 366.31L440 361.6L435.01 361.99" fill="none" stroke="rgb(30,60,255)" stroke-width="1.35" stroke-linecap="round" stroke-linejoin="round"/>
<path d="M441.5 368L451.6 359.6M450.12 364.37L451.6 359.6L446.63 360.19" fill="none" stroke="rgb(30,60,255)" stroke-width="1.35" stroke-linecap="round" stroke-linejoin="round"/>
<path d="M451.35 368L458.6 359M458.09 363.97L458.6 359L453.85 360.56" fill="none" stroke="rgb(30,60,255)" stroke-width="1.35" stroke-linecap="round" stroke-linejoin="round"/>
<path d="M461.21 368L467 359.6M466.86 364.6L467 359.6L462.38 361.51" fill="none" stroke="rgb(30,60,255)" stroke-width="1.35" stroke-linecap="round" stroke-linejoin="round"/>
<path d="M471.07 368L476 360.6M475.94 365.6L476 360.6L471.41 362.58" fill="none" stroke="rgb(30,60,255)" stroke-width="1.35" stroke-linecap="round" stroke-linejoin="round"/>
<path d="M480.92 368L486 361.6M485.53 366.58L486 361.6L481.26 363.19" fill="none" stroke="rgb(130,0,220)" stroke-width="1.35" stroke-linecap="round" stroke-linejoin="round"/>
<path d="M490.78 368L501.6 366M497.97 369.44L501.6 366L496.98 364.08" fill="none" stroke="rgb(30,60,255)" stroke-width="1.35" stroke-linecap="round" stroke-linejoin="round"/>
<path d="M500.64 368L515.9 374.1M511 375.07L515.9 374.1L513.02 370.01" fill="none" stroke="rgb(0,160,255)" stroke-width="1.35" stroke-linecap="round" stroke-linejoin="round"/>
<path d="M510.5 368L511 396M508.2 391.86L511 396L513.65 391.76" fill="none" stroke="rgb(160,230,50)" stroke-width="1.35" stroke-linecap="round" stroke-linejoin="round"/>
<path d="M520.35 368L506 404.5M505 399.6L506 404.5L510.07 401.59" fill="none" stroke="rgb(240,130,40)" stroke-width="1.35" stroke-linecap="round" stroke-linejoin="round"/>
<path d="M530.21 368L505 406.5M505.02 401.5L505 406.5L509.58 404.48" fill="none" stroke="rgb(240,130,40)" stroke-width="1.35" stroke-linecap="round" stroke-linejoin="round"/>
<path d="M540.07 368L524.6 409.8M523.5 404.92L524.6 409.8L528.61 406.81" fill="none" stroke="rgb(250,60,60)" stroke-width="1.35" stroke-linecap="round" stroke-linejoin="round"/>
<path d="M549.92 368L538.4 410.1M536.88 405.34L538.4 410.1L542.13 406.77" fill="none" stroke="rgb(250,60,60)" stroke-width="1.35" stroke-linecap="round" stroke-linejoin="round"/>
<path d="M559.78 368L549.8 408.6M548.16 403.88L549.8 408.6L553.45 405.18" fill="none" stroke="rgb(240,130,40)" stroke-width="1.35" stroke-linecap="round" stroke-linejoin="round"/>
<path d="M569.64 368L562 409M560.09 404.38L562 409L565.45 405.38" fill="none" stroke="rgb(240,130,40)" stroke-width="1.35" stroke-linecap="round" stroke-linejoin="round"/>
<path d="M579.49 368L573 407M571 402.42L573 407L576.38 403.31" fill="none" stroke="rgb(240,130,40)" stroke-width="1.35" stroke-linecap="round" stroke-linejoin="round"/>
<path d="M589.35 368L584 401M581.98 396.42L584 401L587.36 397.3" fill="none" stroke="rgb(230,220,50)" stroke-width="1.35" stroke-linecap="round" stroke-linejoin="round"/>
<path d="M599.21 368L594 394M592.15 389.35L594 394L597.49 390.42" fill="none" stroke="rgb(0,220,0)" stroke-width="1.35" stroke-linecap="round" stroke-linejoin="round"/>
<path d="M609.07 368L605 381.6M603.59 376.8L605 381.6L608.81 378.36" fill="none" stroke="rgb(0,160,255)" stroke-width="1.35" stroke-linecap="round" stroke-linejoin="round"/>
<path d="M618.92 368L619 372M616.2 367.86L619 372L621.64 367.75" fill="none" stroke="rgb(130,0,220)" stroke-width="1.35" stroke-linecap="round" stroke-linejoin="round"/>
<path d="M628.78 368L636 366.6M632.4 370.07L636 366.6L631.36 364.72" fill="none" stroke="rgb(130,0,220)" stroke-width="1.35" stroke-linecap="round" stroke-linejoin="round"/>
<path d="M638.64 368L648.6 362.4M646.28 366.83L648.6 362.4L643.61 362.08" fill="none" stroke="rgb(30,60,255)" stroke-width="1.35" stroke-linecap="round" stroke-linejoin="round"/>
<path d="M648.49 368L658 359.6M656.66 364.42L658 359.6L653.05 360.34" fill="none" stroke="rgb(30,60,255)" stroke-width="1.35" stroke-linecap="round" stroke-linejoin="round"/>
<path d="M658.35 368L665 359M664.7 363.99L665 359L660.32 360.75" fill="none" stroke="rgb(30,60,255)" stroke-width="1.35" stroke-linecap="round" stroke-linejoin="round"/>
<path d="M668.21 368L672 360.4M672.56 365.37L672 360.4L667.69 362.94" fill="none" stroke="rgb(30,60,255)" stroke-width="1.35" stroke-linecap="round" stroke-linejoin="round"/>
<path d="M678.06 368L680 363M681.03 367.89L680 363L675.95 365.93" fill="none" stroke="rgb(130,0,220)" stroke-width="1.35" stroke-linecap="round" stroke-linejoin="round"/>
<path d="M687.92 368L690.4 363M690.98 367.97L690.4 363L686.1 365.55" fill="none" stroke="rgb(130,0,220)" stroke-width="1.35" stroke-linecap="round" stroke-linejoin="round"/>
<path d="M697.78 368L700 362.4M700.99 367.3L700 362.4L695.92 365.29" fill="none" stroke="rgb(130,0,220)" stroke-width="1.35" stroke-linecap="round" stroke-linejoin="round"/>
<path d="M707.64 368L709.4 362.4M710.74 367.22L709.4 362.4L705.54 365.58" fill="none" stroke="rgb(130,0,220)" stroke-width="1.35" stroke-linecap="round" stroke-linejoin="round"/>
<path d="M717.49 368L719 363M720.4 367.8L719 363L715.18 366.23" fill="none" stroke="rgb(130,0,220)" stroke-width="1.35" stroke-linecap="round" stroke-linejoin="round"/>
<path d="M727.35 368L731 364.6M729.79 369.45L731 364.6L726.08 365.47" fill="none" stroke="rgb(130,0,220)" stroke-width="1.35" stroke-linecap="round" stroke-linejoin="round"/>
<path d="M737.21 368L747 370M742.35 371.83L747 370L743.44 366.49" fill="none" stroke="rgb(30,60,255)" stroke-width="1.35" stroke-linecap="round" stroke-linejoin="round"/>
<path d="M747.06 368L757 375.6M752.01 375.22L757 375.6L755.32 370.89" fill="none" stroke="rgb(30,60,255)" stroke-width="1.35" stroke-linecap="round" stroke-linejoin="round"/>
<path d="M756.92 368L760 379.6M756.29 376.25L760 379.6L761.56 374.85" fill="none" stroke="rgb(0,160,255)" stroke-width="1.35" stroke-linecap="round" stroke-linejoin="round"/>
<path d="M766.78 368L767.4 379.6M764.46 375.56L767.4 379.6L769.89 375.27" fill="none" stroke="rgb(0,160,255)" stroke-width="1.35" stroke-linecap="round" stroke-linejoin="round"/>
<path d="M776.63 368L775.4 380M773.12 375.55L775.4 380L778.54 376.11" fill="none" stroke="rgb(0,160,255)" stroke-width="1.35" stroke-linecap="round" stroke-linejoin="round"/>
<path d="M786.49 368L784 379M782.27 374.31L784 379L787.58 375.51" fill="none" stroke="rgb(30,60,255)" stroke-width="1.35" stroke-linecap="round" stroke-linejoin="round"/>
<path d="M796.35 368L792 379M791.01 374.1L792 379L796.07 376.1" fill="none" stroke="rgb(0,160,255)" stroke-width="1.35" stroke-linecap="round" stroke-linejoin="round"/>
<path d="M806.21 368L800 378.6M799.77 373.61L800 378.6L804.47 376.36" fill="none" stroke="rgb(0,160,255)" stroke-width="1.35" stroke-linecap="round" stroke-linejoin="round"/>
<path d="M816.06 368L809.6 375.6M810.24 370.64L809.6 375.6L814.39 374.17" fill="none" stroke="rgb(30,60,255)" stroke-width="1.35" stroke-linecap="round" stroke-linejoin="round"/>
<path d="M825.92 368L820 371.6M822.17 367.09L820 371.6L825 371.75" fill="none" stroke="rgb(130,0,220)" stroke-width="1.35" stroke-linecap="round" stroke-linejoin="round"/>
<path d="M835.78 368L829.6 362.6M834.55 363.31L829.6 362.6L830.96 367.41" fill="none" stroke="rgb(130,0,220)" stroke-width="1.35" stroke-linecap="round" stroke-linejoin="round"/>
<path d="M845.63 368L841 359M845.34 361.48L841 359L840.5 363.97" fill="none" stroke="rgb(30,60,255)" stroke-width="1.35" stroke-linecap="round" stroke-linejoin="round"/>
<path d="M855.49 368L850 352.4M853.96 355.45L850 352.4L848.82 357.26" fill="none" stroke="rgb(0,200,200)" stroke-width="1.35" stroke-linecap="round" stroke-linejoin="round"/>
<path d="M865.35 368L859.6 353M863.64 355.94L859.6 353L858.56 357.89" fill="none" stroke="rgb(0,200,200)" stroke-width="1.35" stroke-linecap="round" stroke-linejoin="round"/>
<path d="M875.2 368L870.4 354.4M874.36 357.45L870.4 354.4L869.23 359.26" fill="none" stroke="rgb(0,160,255)" stroke-width="1.35" stroke-linecap="round" stroke-linejoin="round"/>
<path d="M885.06 368L881 357.6M885.06 360.52L881 357.6L879.99 362.5" fill="none" stroke="rgb(30,60,255)" stroke-width="1.35" stroke-linecap="round" stroke-linejoin="round"/>
<path d="M894.92 368L890.4 357.6M894.57 360.36L890.4 357.6L889.57 362.53" fill="none" stroke="rgb(30,60,255)" stroke-width="1.35" stroke-linecap="round" stroke-linejoin="round"/>
<path d="M904.78 368L899 358M903.46 360.27L899 358L898.74 362.99" fill="none" stroke="rgb(30,60,255)" stroke-width="1.35" stroke-linecap="round" stroke-linejoin="round"/>
<path d="M914.63 368L909.6 358.4M913.96 360.85L909.6 358.4L909.14 363.38" fill="none" stroke="rgb(30,60,255)" stroke-width="1.35" stroke-linecap="round" stroke-linejoin="round"/>
<path d="M924.49 368L919.4 359M923.83 361.31L919.4 359L919.09 363.99" fill="none" stroke="rgb(30,60,255)" stroke-width="1.35" stroke-linecap="round" stroke-linejoin="round"/>
<path d="M934.35 368L928.4 359.6M933.05 361.45L928.4 359.6L928.6 364.6" fill="none" stroke="rgb(30,60,255)" stroke-width="1.35" stroke-linecap="round" stroke-linejoin="round"/>
<path d="M944.2 368L937.6 359.6M942.33 361.21L937.6 359.6L938.05 364.58" fill="none" stroke="rgb(30,60,255)" stroke-width="1.35" stroke-linecap="round" stroke-linejoin="round"/>
<path d="M954.06 368L949 361M953.66 362.8L949 361L949.25 365.99" fill="none" stroke="rgb(130,0,220)" stroke-width="1.35" stroke-linecap="round" stroke-linejoin="round"/>
<polyline points="204.93,535.6 214.79,537.4 224.64,539 234.5,540.4 244.36,539 254.21,528 264.07,516.6 273.93,506.6 283.78,497 293.64,488.6 303.5,484.4 313.36,482 323.21,480.6 333.07,480.6 342.93,488.6 352.78,499 362.64,506 372.5,511.6 382.35,516.4 392.21,526.4 402.07,530.4 411.93,531 421.78,533.4 431.64,536 441.5,539.4 451.35,541.6 461.21,543.4 471.07,545.4 480.92,542 490.78,530 500.64,518.6 510.5,507.6 520.35,504.2 530.21,498.4 540.07,499 549.92,496 559.78,496.6 569.64,498 579.49,502 589.35,507.6 599.21,515.6 609.07,526.4 618.92,531 628.78,536.4 638.64,547 648.49,551 658.35,552.4 668.21,554 678.06,555 687.92,558 697.78,560 707.64,560.6 717.49,556.4 727.35,544 737.21,532 747.06,522 756.92,514.6 766.78,507.4 776.63,502 786.49,498 796.35,496 806.21,495.4 816.06,496.4 825.92,499.4 835.78,507.6 845.63,522 855.49,537 865.35,544.6 875.2,547.4 885.06,549.4 894.92,551.4 904.78,552.8 914.63,555 924.49,556.4 934.35,557.4 944.2,559.4 954.06,554" fill="none" stroke="rgb(250,60,60)" stroke-width="1.4" stroke-linejoin="round"/>
<polyline points="204.93,546.4 214.79,549 224.64,556 234.5,560.6 244.36,549.6 254.21,519 264.07,496.6 273.93,482 283.78,468 293.64,458.6 303.5,456 313.36,460 323.21,461 333.07,465.6 342.93,482 352.78,495 362.64,508 372.5,518 382.35,527.4 392.21,534.6 402.07,537.4 411.93,538.4 421.78,542 431.64,546.6 441.5,550.4 451.35,553.4 461.21,555.6 471.07,558.6 480.92,547 490.78,522 500.64,498 510.5,488 520.35,488 530.21,472.4 540.07,480 549.92,478.4 559.78,479.6 569.64,482.4 579.49,492.4 589.35,503.6 599.21,521 609.07,533.4 618.92,547 628.78,556 638.64,558 648.49,560.6 658.35,563 668.21,566.6 678.06,572 687.92,575.6 697.78,578 707.64,580 717.49,564 727.35,532 737.21,509 747.06,493.6 756.92,481.6 766.78,469.6 776.63,463.6 786.49,462.6 796.35,465 806.21,469.6 816.06,477.6 825.92,493 835.78,516 845.63,535.6 855.49,542 865.35,548 875.2,552.6 885.06,555.6 894.92,558 904.78,559.6 914.63,563 924.49,565.6 934.35,568 944.2,569.4 954.06,555" fill="none" stroke="rgb(230,175,45)" stroke-width="1.4" stroke-linejoin="round"/>
<polyline points="204.93,554.4 214.79,558 224.64,562 234.5,565.4 244.36,565 254.21,556.4 264.07,555.4 273.93,553 283.78,551.4 293.64,560 303.5,565 313.36,568.6 323.21,571.4 333.07,571 342.93,561 352.78,550 362.64,549.4 372.5,550.4 382.35,552.4 392.21,553 402.07,557 411.93,560.4 421.78,560.4 431.64,560.4 441.5,562 451.35,564.4 461.21,565.6 471.07,565.6 480.92,563 490.78,559 500.64,556.6 510.5,573 520.35,577 530.21,578.4 540.07,579 549.92,581 559.78,580.6 569.64,583 579.49,588 589.35,589 599.21,586.4 609.07,586 618.92,584.6 628.78,584 638.64,585 648.49,585.4 658.35,585 668.21,584 678.06,583 687.92,584.4 697.78,585.4 707.64,586 717.49,582.6 727.35,579.4 737.21,576.6 747.06,574.4 756.92,573 766.78,571.6 776.63,571.4 786.49,571 796.35,571.6 806.21,570.6 816.06,572.4 825.92,573.4 835.78,568 845.63,567.6 855.49,570.6 865.35,571.4 875.2,571.4 885.06,571.6 894.92,574.4 904.78,575.5 914.63,576.4 924.49,576.6 934.35,577 944.2,577.6 954.06,573" fill="none" stroke="rgb(0,220,0)" stroke-width="1.5" stroke-linejoin="round"/>
<line x1="199.3" y1="143.6" x2="959" y2="143.6" stroke="#979797" stroke-width="1.25" stroke-dasharray="2.4 8.187"/>
<line x1="199.3" y1="177" x2="959" y2="177" stroke="#979797" stroke-width="1.25" stroke-dasharray="2.4 8.187"/>
<line x1="199.3" y1="210.4" x2="959" y2="210.4" stroke="#979797" stroke-width="1.25" stroke-dasharray="2.4 8.187"/>
<line x1="199.3" y1="243.8" x2="959" y2="243.8" stroke="#979797" stroke-width="1.25" stroke-dasharray="2.4 8.187"/>
<line x1="199.3" y1="277.2" x2="959" y2="277.2" stroke="#979797" stroke-width="1.25" stroke-dasharray="2.4 8.187"/>
<line x1="199.3" y1="306.44" x2="959" y2="306.44" stroke="#979797" stroke-width="1.25" stroke-dasharray="2.4 8.187"/>
<line x1="199.3" y1="350.16" x2="959" y2="350.16" stroke="#979797" stroke-width="1.25" stroke-dasharray="2.4 8.187"/>
<line x1="199.3" y1="393.88" x2="959" y2="393.88" stroke="#979797" stroke-width="1.25" stroke-dasharray="2.4 8.187"/>
<line x1="199.3" y1="437.6" x2="959" y2="437.6" stroke="#979797" stroke-width="1.25" stroke-dasharray="2.4 8.187"/>
<line x1="199.3" y1="589.6" x2="959" y2="589.6" stroke="#979797" stroke-width="1.25" stroke-dasharray="2.4 8.187"/>
<line x1="199.3" y1="573.82" x2="959" y2="573.82" stroke="#979797" stroke-width="1.25" stroke-dasharray="2.4 8.187"/>
<line x1="199.3" y1="558.04" x2="959" y2="558.04" stroke="#979797" stroke-width="1.25" stroke-dasharray="2.4 8.187"/>
<line x1="199.3" y1="542.26" x2="959" y2="542.26" stroke="#979797" stroke-width="1.25" stroke-dasharray="2.4 8.187"/>
<line x1="199.3" y1="526.48" x2="959" y2="526.48" stroke="#979797" stroke-width="1.25" stroke-dasharray="2.4 8.187"/>
<line x1="199.3" y1="510.7" x2="959" y2="510.7" stroke="#979797" stroke-width="1.25" stroke-dasharray="2.4 8.187"/>
<line x1="199.3" y1="494.92" x2="959" y2="494.92" stroke="#979797" stroke-width="1.25" stroke-dasharray="2.4 8.187"/>
<line x1="199.3" y1="479.14" x2="959" y2="479.14" stroke="#979797" stroke-width="1.25" stroke-dasharray="2.4 8.187"/>
<line x1="199.3" y1="463.36" x2="959" y2="463.36" stroke="#979797" stroke-width="1.25" stroke-dasharray="2.4 8.187"/>
<line x1="199.3" y1="447.58" x2="959" y2="447.58" stroke="#979797" stroke-width="1.25" stroke-dasharray="2.4 8.187"/>
<line x1="199.3" y1="612.6" x2="959" y2="612.6" stroke="#979797" stroke-width="1.25" stroke-dasharray="2.4 8.187"/>
<line x1="199.3" y1="644.8" x2="959" y2="644.8" stroke="#979797" stroke-width="1.25" stroke-dasharray="2.4 8.187"/>
<line x1="199.3" y1="677" x2="959" y2="677" stroke="#979797" stroke-width="1.25" stroke-dasharray="2.4 8.187"/>
<line x1="199.3" y1="709.2" x2="959" y2="709.2" stroke="#979797" stroke-width="1.25" stroke-dasharray="2.4 8.187"/>
<line x1="199.3" y1="741.4" x2="959" y2="741.4" stroke="#979797" stroke-width="1.25" stroke-dasharray="2.4 8.187"/>
<line x1="199.3" y1="784.04" x2="959" y2="784.04" stroke="#979797" stroke-width="1.25" stroke-dasharray="2.4 8.187"/>
<line x1="199.3" y1="815.28" x2="959" y2="815.28" stroke="#979797" stroke-width="1.25" stroke-dasharray="2.4 8.187"/>
<line x1="199.3" y1="846.52" x2="959" y2="846.52" stroke="#979797" stroke-width="1.25" stroke-dasharray="2.4 8.187"/>
<line x1="199.3" y1="877.76" x2="959" y2="877.76" stroke="#979797" stroke-width="1.25" stroke-dasharray="2.4 8.187"/>
<line x1="313.4" y1="141.8" x2="313.4" y2="289.6" stroke="#979797" stroke-width="1.3" stroke-dasharray="2 6.2"/>
<line x1="313.4" y1="296.4" x2="313.4" y2="444" stroke="#979797" stroke-width="1.3" stroke-dasharray="2 6.2"/>
<line x1="313.4" y1="450.8" x2="313.4" y2="598.8" stroke="#979797" stroke-width="1.3" stroke-dasharray="2 6.2"/>
<line x1="431.7" y1="141.8" x2="431.7" y2="289.6" stroke="#979797" stroke-width="1.3" stroke-dasharray="2 6.2"/>
<line x1="431.7" y1="296.4" x2="431.7" y2="444" stroke="#979797" stroke-width="1.3" stroke-dasharray="2 6.2"/>
<line x1="431.7" y1="450.8" x2="431.7" y2="598.8" stroke="#979797" stroke-width="1.3" stroke-dasharray="2 6.2"/>
<line x1="550" y1="141.8" x2="550" y2="289.6" stroke="#979797" stroke-width="1.3" stroke-dasharray="2 6.2"/>
<line x1="550" y1="296.4" x2="550" y2="444" stroke="#979797" stroke-width="1.3" stroke-dasharray="2 6.2"/>
<line x1="550" y1="450.8" x2="550" y2="598.8" stroke="#979797" stroke-width="1.3" stroke-dasharray="2 6.2"/>
<line x1="668.3" y1="141.8" x2="668.3" y2="289.6" stroke="#979797" stroke-width="1.3" stroke-dasharray="2 6.2"/>
<line x1="668.3" y1="296.4" x2="668.3" y2="444" stroke="#979797" stroke-width="1.3" stroke-dasharray="2 6.2"/>
<line x1="668.3" y1="450.8" x2="668.3" y2="598.8" stroke="#979797" stroke-width="1.3" stroke-dasharray="2 6.2"/>
<line x1="786.6" y1="141.8" x2="786.6" y2="289.6" stroke="#979797" stroke-width="1.3" stroke-dasharray="2 6.2"/>
<line x1="786.6" y1="296.4" x2="786.6" y2="444" stroke="#979797" stroke-width="1.3" stroke-dasharray="2 6.2"/>
<line x1="786.6" y1="450.8" x2="786.6" y2="598.8" stroke="#979797" stroke-width="1.3" stroke-dasharray="2 6.2"/>
<line x1="904.9" y1="141.8" x2="904.9" y2="289.6" stroke="#979797" stroke-width="1.3" stroke-dasharray="2 6.2"/>
<line x1="904.9" y1="296.4" x2="904.9" y2="444" stroke="#979797" stroke-width="1.3" stroke-dasharray="2 6.2"/>
<line x1="904.9" y1="450.8" x2="904.9" y2="598.8" stroke="#979797" stroke-width="1.3" stroke-dasharray="2 6.2"/>
<line x1="309.9" y1="605.6" x2="309.9" y2="753.4" stroke="#979797" stroke-width="1.3" stroke-dasharray="2 6.2"/>
<line x1="309.9" y1="760.2" x2="309.9" y2="908" stroke="#979797" stroke-width="1.3" stroke-dasharray="2 6.2"/>
<line x1="429.7" y1="605.6" x2="429.7" y2="753.4" stroke="#979797" stroke-width="1.3" stroke-dasharray="2 6.2"/>
<line x1="429.7" y1="760.2" x2="429.7" y2="908" stroke="#979797" stroke-width="1.3" stroke-dasharray="2 6.2"/>
<line x1="549.5" y1="605.6" x2="549.5" y2="753.4" stroke="#979797" stroke-width="1.3" stroke-dasharray="2 6.2"/>
<line x1="549.5" y1="760.2" x2="549.5" y2="908" stroke="#979797" stroke-width="1.3" stroke-dasharray="2 6.2"/>
<line x1="669.3" y1="605.6" x2="669.3" y2="753.4" stroke="#979797" stroke-width="1.3" stroke-dasharray="2 6.2"/>
<line x1="669.3" y1="760.2" x2="669.3" y2="908" stroke="#979797" stroke-width="1.3" stroke-dasharray="2 6.2"/>
<line x1="789.1" y1="605.6" x2="789.1" y2="753.4" stroke="#979797" stroke-width="1.3" stroke-dasharray="2 6.2"/>
<line x1="789.1" y1="760.2" x2="789.1" y2="908" stroke="#979797" stroke-width="1.3" stroke-dasharray="2 6.2"/>
<line x1="908.9" y1="605.6" x2="908.9" y2="753.4" stroke="#979797" stroke-width="1.3" stroke-dasharray="2 6.2"/>
<line x1="908.9" y1="760.2" x2="908.9" y2="908" stroke="#979797" stroke-width="1.3" stroke-dasharray="2 6.2"/>
<path d="M313.4 130.6V136 M431.7 130.6V136 M550 130.6V136 M668.3 130.6V136 M786.6 130.6V136 M904.9 130.6V136 M309.9 909V914.2 M429.7 909V914.2 M549.5 909V914.2 M669.3 909V914.2 M789.1 909V914.2 M908.9 909V914.2 M194 143.6H200 M194 177H200 M194 210.4H200 M194 243.8H200 M194 277.2H200 M194 306.44H200 M194 350.16H200 M194 393.88H200 M194 437.6H200 M194 447.58H200 M194 463.36H200 M194 479.14H200 M194 494.92H200 M194 510.7H200 M194 526.48H200 M194 542.26H200 M194 558.04H200 M194 573.82H200 M194 589.6H200 M194 612.6H200 M194 644.8H200 M194 677H200 M194 709.2H200 M194 741.4H200 M194 784.04H200 M194 815.28H200 M194 846.52H200 M194 877.76H200 M194 909H200" stroke="#000" stroke-width="1.3" fill="none"/>
<text transform="translate(189.6,149.1) scale(1.09,1)" x="0" y="0" font-family="'Liberation Sans', Arial, sans-serif" font-size="14.8" fill="#000" text-anchor="end" textLength="36.58" lengthAdjust="spacing">1020</text>
<text transform="translate(189.6,182.5) scale(1.09,1)" x="0" y="0" font-family="'Liberation Sans', Arial, sans-serif" font-size="14.8" fill="#000" text-anchor="end" textLength="36.58" lengthAdjust="spacing">1018</text>
<text transform="translate(189.6,215.9) scale(1.09,1)" x="0" y="0" font-family="'Liberation Sans', Arial, sans-serif" font-size="14.8" fill="#000" text-anchor="end" textLength="36.58" lengthAdjust="spacing">1016</text>
<text transform="translate(189.6,249.3) scale(1.09,1)" x="0" y="0" font-family="'Liberation Sans', Arial, sans-serif" font-size="14.8" fill="#000" text-anchor="end" textLength="36.58" lengthAdjust="spacing">1014</text>
<text transform="translate(189.6,282.7) scale(1.09,1)" x="0" y="0" font-family="'Liberation Sans', Arial, sans-serif" font-size="14.8" fill="#000" text-anchor="end" textLength="36.58" lengthAdjust="spacing">1012</text>
<text transform="translate(189.6,311.94) scale(1.12,1)" x="0" y="0" font-family="'Liberation Sans', Arial, sans-serif" font-size="14.8" fill="#000" text-anchor="end" textLength="18.29" lengthAdjust="spacing">12</text>
<text transform="translate(189.6,355.66) scale(1.19,1)" x="0" y="0" font-family="'Liberation Sans', Arial, sans-serif" font-size="14.8" fill="#000" text-anchor="end" textLength="9.14" lengthAdjust="spacing">8</text>
<text transform="translate(189.6,399.38) scale(1.19,1)" x="0" y="0" font-family="'Liberation Sans', Arial, sans-serif" font-size="14.8" fill="#000" text-anchor="end" textLength="9.14" lengthAdjust="spacing">4</text>
<text transform="translate(189.6,443.1) scale(1.19,1)" x="0" y="0" font-family="'Liberation Sans', Arial, sans-serif" font-size="14.8" fill="#000" text-anchor="end" textLength="9.14" lengthAdjust="spacing">0</text>
<text transform="translate(189.6,453.08) scale(1.12,1)" x="0" y="0" font-family="'Liberation Sans', Arial, sans-serif" font-size="14.8" fill="#000" text-anchor="end" textLength="18.29" lengthAdjust="spacing">27</text>
<text transform="translate(189.6,468.86) scale(1.12,1)" x="0" y="0" font-family="'Liberation Sans', Arial, sans-serif" font-size="14.8" fill="#000" text-anchor="end" textLength="18.29" lengthAdjust="spacing">24</text>
<text transform="translate(189.6,484.64) scale(1.12,1)" x="0" y="0" font-family="'Liberation Sans', Arial, sans-serif" font-size="14.8" fill="#000" text-anchor="end" textLength="18.29" lengthAdjust="spacing">21</text>
<text transform="translate(189.6,500.42) scale(1.12,1)" x="0" y="0" font-family="'Liberation Sans', Arial, sans-serif" font-size="14.8" fill="#000" text-anchor="end" textLength="18.29" lengthAdjust="spacing">18</text>
<text transform="translate(189.6,516.2) scale(1.12,1)" x="0" y="0" font-family="'Liberation Sans', Arial, sans-serif" font-size="14.8" fill="#000" text-anchor="end" textLength="18.29" lengthAdjust="spacing">15</text>
<text transform="translate(189.6,531.98) scale(1.12,1)" x="0" y="0" font-family="'Liberation Sans', Arial, sans-serif" font-size="14.8" fill="#000" text-anchor="end" textLength="18.29" lengthAdjust="spacing">12</text>
<text transform="translate(189.6,547.76) scale(1.19,1)" x="0" y="0" font-family="'Liberation Sans', Arial, sans-serif" font-size="14.8" fill="#000" text-anchor="end" textLength="9.14" lengthAdjust="spacing">9</text>
<text transform="translate(189.6,563.54) scale(1.19,1)" x="0" y="0" font-family="'Liberation Sans', Arial, sans-serif" font-size="14.8" fill="#000" text-anchor="end" textLength="9.14" lengthAdjust="spacing">6</text>
<text transform="translate(189.6,579.32) scale(1.19,1)" x="0" y="0" font-family="'Liberation Sans', Arial, sans-serif" font-size="14.8" fill="#000" text-anchor="end" textLength="9.14" lengthAdjust="spacing">3</text>
<text transform="translate(189.6,595.1) scale(1.19,1)" x="0" y="0" font-family="'Liberation Sans', Arial, sans-serif" font-size="14.8" fill="#000" text-anchor="end" textLength="9.14" lengthAdjust="spacing">0</text>
<text transform="translate(189.6,618.1) scale(1.1,1)" x="0" y="0" font-family="'Liberation Sans', Arial, sans-serif" font-size="14.8" fill="#000" text-anchor="end" textLength="27.43" lengthAdjust="spacing">100</text>
<text transform="translate(189.6,650.3) scale(1.12,1)" x="0" y="0" font-family="'Liberation Sans', Arial, sans-serif" font-size="14.8" fill="#000" text-anchor="end" textLength="18.29" lengthAdjust="spacing">75</text>
<text transform="translate(189.6,682.5) scale(1.12,1)" x="0" y="0" font-family="'Liberation Sans', Arial, sans-serif" font-size="14.8" fill="#000" text-anchor="end" textLength="18.29" lengthAdjust="spacing">50</text>
<text transform="translate(189.6,714.7) scale(1.12,1)" x="0" y="0" font-family="'Liberation Sans', Arial, sans-serif" font-size="14.8" fill="#000" text-anchor="end" textLength="18.29" lengthAdjust="spacing">25</text>
<text transform="translate(189.6,746.9) scale(1.19,1)" x="0" y="0" font-family="'Liberation Sans', Arial, sans-serif" font-size="14.8" fill="#000" text-anchor="end" textLength="9.14" lengthAdjust="spacing">0</text>
<text transform="translate(189.6,789.54) scale(1.1,1)" x="0" y="0" font-family="'Liberation Sans', Arial, sans-serif" font-size="14.8" fill="#000" text-anchor="end" textLength="22.86" lengthAdjust="spacing">0.8</text>
<text transform="translate(189.6,820.78) scale(1.1,1)" x="0" y="0" font-family="'Liberation Sans', Arial, sans-serif" font-size="14.8" fill="#000" text-anchor="end" textLength="22.86" lengthAdjust="spacing">0.6</text>
<text transform="translate(189.6,852.02) scale(1.1,1)" x="0" y="0" font-family="'Liberation Sans', Arial, sans-serif" font-size="14.8" fill="#000" text-anchor="end" textLength="22.86" lengthAdjust="spacing">0.4</text>
<text transform="translate(189.6,883.26) scale(1.1,1)" x="0" y="0" font-family="'Liberation Sans', Arial, sans-serif" font-size="14.8" fill="#000" text-anchor="end" textLength="22.86" lengthAdjust="spacing">0.2</text>
<text transform="translate(189.6,914.5) scale(1.19,1)" x="0" y="0" font-family="'Liberation Sans', Arial, sans-serif" font-size="14.8" fill="#000" text-anchor="end" textLength="9.14" lengthAdjust="spacing">0</text>
<text transform="translate(313.4,91.6) scale(1.11,1)" x="0" y="0" font-family="'Liberation Sans', Arial, sans-serif" font-size="18.2" fill="#000" text-anchor="middle" textLength="44.98" lengthAdjust="spacing" stroke="#fff" stroke-width="0.45">2026</text>
<text transform="translate(313.4,109.6) scale(1,1)" x="0" y="0" font-family="'Liberation Sans', Arial, sans-serif" font-size="18.2" fill="#000" text-anchor="middle" textLength="61.4" lengthAdjust="spacing" stroke="#fff" stroke-width="0.45">17APR</text>
<text transform="translate(313.4,127.6) scale(1,1)" x="0" y="0" font-family="'Liberation Sans', Arial, sans-serif" font-size="18.2" fill="#000" text-anchor="middle" textLength="34.84" lengthAdjust="spacing" stroke="#fff" stroke-width="0.45">12Z</text>
<text transform="translate(431.7,109.6) scale(1,1)" x="0" y="0" font-family="'Liberation Sans', Arial, sans-serif" font-size="18.2" fill="#000" text-anchor="middle" textLength="61.4" lengthAdjust="spacing" stroke="#fff" stroke-width="0.45">18APR</text>
<text transform="translate(431.7,127.6) scale(1.03,1)" x="0" y="0" font-family="'Liberation Sans', Arial, sans-serif" font-size="18.2" fill="#000" text-anchor="middle" textLength="34.84" lengthAdjust="spacing" stroke="#fff" stroke-width="0.45">00Z</text>
<text transform="translate(550,127.6) scale(1,1)" x="0" y="0" font-family="'Liberation Sans', Arial, sans-serif" font-size="18.2" fill="#000" text-anchor="middle" textLength="34.84" lengthAdjust="spacing" stroke="#fff" stroke-width="0.45">12Z</text>
<text transform="translate(668.3,109.6) scale(1,1)" x="0" y="0" font-family="'Liberation Sans', Arial, sans-serif" font-size="18.2" fill="#000" text-anchor="middle" textLength="61.4" lengthAdjust="spacing" stroke="#fff" stroke-width="0.45">19APR</text>
<text transform="translate(668.3,127.6) scale(1.03,1)" x="0" y="0" font-family="'Liberation Sans', Arial, sans-serif" font-size="18.2" fill="#000" text-anchor="middle" textLength="34.84" lengthAdjust="spacing" stroke="#fff" stroke-width="0.45">00Z</text>
<text transform="translate(786.6,127.6) scale(1,1)" x="0" y="0" font-family="'Liberation Sans', Arial, sans-serif" font-size="18.2" fill="#000" text-anchor="middle" textLength="34.84" lengthAdjust="spacing" stroke="#fff" stroke-width="0.45">12Z</text>
<text transform="translate(904.9,109.6) scale(1,1)" x="0" y="0" font-family="'Liberation Sans', Arial, sans-serif" font-size="18.2" fill="#000" text-anchor="middle" textLength="61.4" lengthAdjust="spacing" stroke="#fff" stroke-width="0.45">20APR</text>
<text transform="translate(904.9,127.6) scale(1.03,1)" x="0" y="0" font-family="'Liberation Sans', Arial, sans-serif" font-size="18.2" fill="#000" text-anchor="middle" textLength="34.84" lengthAdjust="spacing" stroke="#fff" stroke-width="0.45">00Z</text>
<text transform="translate(310.5,930.5) scale(1,1)" x="0" y="0" font-family="'Liberation Sans', Arial, sans-serif" font-size="18.2" fill="#000" text-anchor="middle" textLength="34.84" lengthAdjust="spacing" stroke="#fff" stroke-width="0.45">12Z</text>
<text transform="translate(310.5,948) scale(1,1)" x="0" y="0" font-family="'Liberation Sans', Arial, sans-serif" font-size="18.2" fill="#000" text-anchor="middle" textLength="61.4" lengthAdjust="spacing" stroke="#fff" stroke-width="0.45">17APR</text>
<text transform="translate(310.5,965.5) scale(1.11,1)" x="0" y="0" font-family="'Liberation Sans', Arial, sans-serif" font-size="18.2" fill="#000" text-anchor="middle" textLength="44.98" lengthAdjust="spacing" stroke="#fff" stroke-width="0.45">2026</text>
<text transform="translate(429.4,930.5) scale(1.03,1)" x="0" y="0" font-family="'Liberation Sans', Arial, sans-serif" font-size="18.2" fill="#000" text-anchor="middle" textLength="34.84" lengthAdjust="spacing" stroke="#fff" stroke-width="0.45">00Z</text>
<text transform="translate(430.4,948) scale(1,1)" x="0" y="0" font-family="'Liberation Sans', Arial, sans-serif" font-size="18.2" fill="#000" text-anchor="middle" textLength="61.4" lengthAdjust="spacing" stroke="#fff" stroke-width="0.45">18APR</text>
<text transform="translate(550,930.5) scale(1,1)" x="0" y="0" font-family="'Liberation Sans', Arial, sans-serif" font-size="18.2" fill="#000" text-anchor="middle" textLength="34.84" lengthAdjust="spacing" stroke="#fff" stroke-width="0.45">12Z</text>
<text transform="translate(669.3,930.5) scale(1.03,1)" x="0" y="0" font-family="'Liberation Sans', Arial, sans-serif" font-size="18.2" fill="#000" text-anchor="middle" textLength="34.84" lengthAdjust="spacing" stroke="#fff" stroke-width="0.45">00Z</text>
<text transform="translate(669.5,948) scale(1,1)" x="0" y="0" font-family="'Liberation Sans', Arial, sans-serif" font-size="18.2" fill="#000" text-anchor="middle" textLength="61.4" lengthAdjust="spacing" stroke="#fff" stroke-width="0.45">19APR</text>
<text transform="translate(790,930.5) scale(1,1)" x="0" y="0" font-family="'Liberation Sans', Arial, sans-serif" font-size="18.2" fill="#000" text-anchor="middle" textLength="34.84" lengthAdjust="spacing" stroke="#fff" stroke-width="0.45">12Z</text>
<text transform="translate(908.8,930.5) scale(1.03,1)" x="0" y="0" font-family="'Liberation Sans', Arial, sans-serif" font-size="18.2" fill="#000" text-anchor="middle" textLength="34.84" lengthAdjust="spacing" stroke="#fff" stroke-width="0.45">00Z</text>
<text transform="translate(908.8,948) scale(1,1)" x="0" y="0" font-family="'Liberation Sans', Arial, sans-serif" font-size="18.2" fill="#000" text-anchor="middle" textLength="61.4" lengthAdjust="spacing" stroke="#fff" stroke-width="0.45">20APR</text>
<text transform="translate(333.4,15.4) scale(1.43,1)" x="0" y="0" font-family="'Liberation Sans', Arial, sans-serif" font-size="17.8" fill="rgb(238,192,110)" textLength="75.26" lengthAdjust="spacing" stroke="#fff" stroke-width="0.25">Forecast</text>
<text transform="translate(458.22,15.4) scale(1.43,1)" x="0" y="0" font-family="'Liberation Sans', Arial, sans-serif" font-size="17.8" fill="rgb(238,192,110)" textLength="97.85" lengthAdjust="spacing" stroke="#fff" stroke-width="0.25">Meteogram</text>
<text x="355.4" y="49.8" font-family="'DejaVu Serif', serif" font-weight="bold" font-size="24" fill="rgb(192,216,192)" textLength="53" lengthAdjust="spacing">Viti</text>
<text x="353.0" y="47.6" font-family="'DejaVu Serif', serif" font-weight="bold" font-size="24" fill="#000" stroke="#fff" stroke-width="0.8" textLength="53" lengthAdjust="spacing">Viti</text>
<text transform="translate(25.8,60.5) scale(1.12,1)" x="0" y="0" font-family="'Liberation Sans', Arial, sans-serif" font-size="17" fill="rgb(165,75,225)" textLength="97.6" lengthAdjust="spacing" stroke="#fff" stroke-width="0.35">ICON—EU,</text>
<text transform="translate(152.6,64.6) scale(1,1)" x="0" y="0" font-family="'Liberation Sans', Arial, sans-serif" font-size="28" fill="rgb(165,75,225)" stroke="#fff" stroke-width="0.5">~</text>
<text transform="translate(186,60.5) scale(1.33,1)" x="0" y="0" font-family="'Liberation Sans', Arial, sans-serif" font-size="17" fill="rgb(165,75,225)" textLength="35.68" lengthAdjust="spacing" stroke="#fff" stroke-width="0.35">7km</text>
<text transform="translate(588.4,22.8) scale(1.45,1)" x="0" y="0" font-family="'Liberation Sans', Arial, sans-serif" font-size="12.8" fill="rgb(165,50,215)" textLength="61.88" lengthAdjust="spacing" stroke="#fff" stroke-width="0.15">requested</text>
<text transform="translate(690.85,22.8) scale(1.45,1)" x="0" y="0" font-family="'Liberation Sans', Arial, sans-serif" font-size="12.8" fill="rgb(165,50,215)" textLength="37.12" lengthAdjust="spacing" stroke="#fff" stroke-width="0.15">lon,lat</text>
<text transform="translate(757.31,22.8) scale(1.45,1)" x="0" y="0" font-family="'Liberation Sans', Arial, sans-serif" font-size="12.8" fill="rgb(165,50,215)" textLength="68.07" lengthAdjust="spacing" stroke="#fff" stroke-width="0.15">(21.3589E,</text>
<text transform="translate(868.76,22.8) scale(1.45,1)" x="0" y="0" font-family="'Liberation Sans', Arial, sans-serif" font-size="12.8" fill="rgb(165,50,215)" textLength="64.97" lengthAdjust="spacing" stroke="#fff" stroke-width="0.15">42.3222N)</text>
<text transform="translate(513.6,40.8) scale(1.45,1)" x="0" y="0" font-family="'Liberation Sans', Arial, sans-serif" font-size="12.8" fill="rgb(165,50,215)" textLength="23.2" lengthAdjust="spacing" stroke="#fff" stroke-width="0.15">grid</text>
<text transform="translate(559.69,40.8) scale(1.45,1)" x="0" y="0" font-family="'Liberation Sans', Arial, sans-serif" font-size="12.8" fill="rgb(165,50,215)" textLength="30.17" lengthAdjust="spacing" stroke="#fff" stroke-width="0.15">point</text>
<text transform="translate(615.86,40.8) scale(1.45,1)" x="0" y="0" font-family="'Liberation Sans', Arial, sans-serif" font-size="12.8" fill="rgb(165,50,215)" textLength="43.3" lengthAdjust="spacing" stroke="#fff" stroke-width="0.15">closest</text>
<text transform="translate(691.05,40.8) scale(1.45,1)" x="0" y="0" font-family="'Liberation Sans', Arial, sans-serif" font-size="12.8" fill="rgb(165,50,215)" textLength="37.12" lengthAdjust="spacing" stroke="#fff" stroke-width="0.15">lon,lat</text>
<text transform="translate(757.3,40.8) scale(1.45,1)" x="0" y="0" font-family="'Liberation Sans', Arial, sans-serif" font-size="12.8" fill="rgb(165,50,215)" textLength="60.33" lengthAdjust="spacing" stroke="#fff" stroke-width="0.15">(21.375E,</text>
<text transform="translate(857.14,40.8) scale(1.45,1)" x="0" y="0" font-family="'Liberation Sans', Arial, sans-serif" font-size="12.8" fill="rgb(165,50,215)" textLength="64.97" lengthAdjust="spacing" stroke="#fff" stroke-width="0.15">42.3125N)</text>
<text transform="translate(778.4,59) scale(1.4,1)" x="0" y="0" font-family="'Liberation Sans', Arial, sans-serif" font-size="13.2" fill="rgb(165,50,215)" textLength="32.7" lengthAdjust="spacing" stroke="#fff" stroke-width="0.15">Point</text>
<text transform="translate(835.4,59) scale(1.4,1)" x="0" y="0" font-family="'Liberation Sans', Arial, sans-serif" font-size="13.2" fill="rgb(165,50,215)" textLength="47.85" lengthAdjust="spacing" stroke="#fff" stroke-width="0.15">Altitude</text>
<text transform="translate(913.63,59) scale(1.4,1)" x="0" y="0" font-family="'Liberation Sans', Arial, sans-serif" font-size="13.2" fill="rgb(165,50,215)" textLength="35.89" lengthAdjust="spacing" stroke="#fff" stroke-width="0.15">502m</text>
<text transform="translate(716.8,77.8) scale(1.37,1)" x="0" y="0" font-family="'Liberation Sans', Arial, sans-serif" font-size="13.2" fill="rgb(165,50,215)" textLength="39.08" lengthAdjust="spacing" stroke="#fff" stroke-width="0.15">Model</text>
<text transform="translate(781.64,77.8) scale(1.37,1)" x="0" y="0" font-family="'Liberation Sans', Arial, sans-serif" font-size="13.2" fill="rgb(165,50,215)" textLength="32.7" lengthAdjust="spacing" stroke="#fff" stroke-width="0.15">Point</text>
<text transform="translate(837.74,77.8) scale(1.37,1)" x="0" y="0" font-family="'Liberation Sans', Arial, sans-serif" font-size="13.2" fill="rgb(165,50,215)" textLength="47.85" lengthAdjust="spacing" stroke="#fff" stroke-width="0.15">Altitude</text>
<text transform="translate(914.63,77.8) scale(1.37,1)" x="0" y="0" font-family="'Liberation Sans', Arial, sans-serif" font-size="13.2" fill="rgb(165,50,215)" textLength="35.89" lengthAdjust="spacing" stroke="#fff" stroke-width="0.15">562m</text>
<text transform="translate(25.05,236) rotate(-90)" x="0" y="0" font-family="'Liberation Sans', Arial, sans-serif" font-size="21.5" fill="rgb(0,160,255)" textLength="45.2" lengthAdjust="spacingAndGlyphs" stroke="#fff" stroke-width="0.2">PRMSL</text>
<text transform="translate(49,307) rotate(-90)" x="0" y="0" font-family="'Liberation Sans', Arial, sans-serif" font-size="21.5" fill="rgb(0,160,255)" textLength="58.22" lengthAdjust="spacingAndGlyphs" stroke="#fff" stroke-width="0.2">Pressure</text>
<text transform="translate(49,239.28) rotate(-90)" x="0" y="0" font-family="'Liberation Sans', Arial, sans-serif" font-size="21.5" fill="rgb(0,160,255)" textLength="58.24" lengthAdjust="spacingAndGlyphs" stroke="#fff" stroke-width="0.2">Reduced</text>
<text transform="translate(49,171.55) rotate(-90)" x="0" y="0" font-family="'Liberation Sans', Arial, sans-serif" font-size="21.5" fill="rgb(0,160,255)" textLength="12.13" lengthAdjust="spacingAndGlyphs" stroke="#fff" stroke-width="0.2">to</text>
<text transform="translate(49,149.91) rotate(-90)" x="0" y="0" font-family="'Liberation Sans', Arial, sans-serif" font-size="21.5" fill="rgb(0,160,255)" textLength="29.91" lengthAdjust="spacingAndGlyphs" stroke="#fff" stroke-width="0.2">MSL</text>
<text transform="translate(107.3,230.9) rotate(-90)" x="0" y="0" font-family="'Liberation Sans', Arial, sans-serif" font-size="20" fill="#000" textLength="36" lengthAdjust="spacingAndGlyphs" stroke="#fff" stroke-width="0.2">(hPa)</text>
<text transform="translate(25.6,405.6) rotate(-90)" x="0" y="0" font-family="'Liberation Sans', Arial, sans-serif" font-size="21.5" fill="rgb(250,60,60)" textLength="29.33" lengthAdjust="spacingAndGlyphs" stroke="#fff" stroke-width="0.2">Wind</text>
<text transform="translate(25.6,366.77) rotate(-90)" x="0" y="0" font-family="'Liberation Sans', Arial, sans-serif" font-size="21.5" fill="rgb(250,60,60)" textLength="35.77" lengthAdjust="spacingAndGlyphs" stroke="#fff" stroke-width="0.2">GUST</text>
<text transform="translate(49,409.6) rotate(-90)" x="0" y="0" font-family="'Liberation Sans', Arial, sans-serif" font-size="21.5" fill="#000" textLength="27.68" lengthAdjust="spacingAndGlyphs" stroke="#fff" stroke-width="0.2">10m</text>
<text transform="translate(49,372.42) rotate(-90)" x="0" y="0" font-family="'Liberation Sans', Arial, sans-serif" font-size="21.5" fill="#000" textLength="32.42" lengthAdjust="spacingAndGlyphs" stroke="#fff" stroke-width="0.2">Wind</text>
<text transform="translate(72.3,441) rotate(-90)" x="0" y="0" font-family="'Liberation Sans', Arial, sans-serif" font-size="21.5" fill="rgb(20,205,20)" textLength="43" lengthAdjust="spacingAndGlyphs" stroke="#fff" stroke-width="0.2">Speed</text>
<text transform="translate(72.3,388.5) rotate(-90)" x="0" y="0" font-family="'Liberation Sans', Arial, sans-serif" font-size="21.5" fill="rgb(20,205,20)" textLength="24.81" lengthAdjust="spacingAndGlyphs" stroke="#fff" stroke-width="0.2">and</text>
<text transform="translate(72.3,354.18) rotate(-90)" x="0" y="0" font-family="'Liberation Sans', Arial, sans-serif" font-size="21.5" fill="rgb(20,205,20)" textLength="58.68" lengthAdjust="spacingAndGlyphs" stroke="#fff" stroke-width="0.2">Direction</text>
<text transform="translate(101,389) rotate(-90)" x="0" y="0" font-family="'Liberation Sans', Arial, sans-serif" font-size="20" fill="#000" textLength="42" lengthAdjust="spacingAndGlyphs" stroke="#fff" stroke-width="0.2">(m/s)</text>
<text transform="translate(48.6,564) rotate(-90)" x="0" y="0" font-family="'Liberation Sans', Arial, sans-serif" font-size="21.5" fill="rgb(250,60,60)" textLength="20.47" lengthAdjust="spacingAndGlyphs" stroke="#fff" stroke-width="0.2">2m</text>
<text transform="translate(48.6,534.03) rotate(-90)" x="0" y="0" font-family="'Liberation Sans', Arial, sans-serif" font-size="21.5" fill="rgb(250,60,60)" textLength="36.03" lengthAdjust="spacingAndGlyphs" stroke="#fff" stroke-width="0.2">Temp</text>
<text transform="translate(72.3,562.4) rotate(-90)" x="0" y="0" font-family="'Liberation Sans', Arial, sans-serif" font-size="21.5" fill="rgb(230,175,45)" textLength="27.85" lengthAdjust="spacingAndGlyphs" stroke="#fff" stroke-width="0.2">SFC</text>
<text transform="translate(72.3,525.05) rotate(-90)" x="0" y="0" font-family="'Liberation Sans', Arial, sans-serif" font-size="21.5" fill="rgb(230,175,45)" textLength="34.05" lengthAdjust="spacingAndGlyphs" stroke="#fff" stroke-width="0.2">Temp</text>
<text transform="translate(95.7,569) rotate(-90)" x="0" y="0" font-family="'Liberation Sans', Arial, sans-serif" font-size="21.5" fill="rgb(20,205,20)" textLength="39.4" lengthAdjust="spacingAndGlyphs" stroke="#fff" stroke-width="0.2">dewpt</text>
<text transform="translate(95.7,520.1) rotate(-90)" x="0" y="0" font-family="'Liberation Sans', Arial, sans-serif" font-size="21.5" fill="rgb(20,205,20)" textLength="36.1" lengthAdjust="spacingAndGlyphs" stroke="#fff" stroke-width="0.2">Temp</text>
<text transform="translate(118.5,533) rotate(-90)" x="0" y="0" font-family="'Liberation Sans', Arial, sans-serif" font-size="20" fill="#000" textLength="21" lengthAdjust="spacingAndGlyphs" stroke="#fff" stroke-width="0.2">(C)</text>
<text transform="translate(25.6,721) rotate(-90)" x="0" y="0" font-family="'Liberation Sans', Arial, sans-serif" font-size="21.5" fill="rgb(0,160,255)" textLength="31.73" lengthAdjust="spacingAndGlyphs" stroke="#fff" stroke-width="0.2">Total</text>
<text transform="translate(25.6,679.77) rotate(-90)" x="0" y="0" font-family="'Liberation Sans', Arial, sans-serif" font-size="21.5" fill="rgb(0,160,255)" textLength="46.77" lengthAdjust="spacingAndGlyphs" stroke="#fff" stroke-width="0.2">Clouds</text>
<text transform="translate(72.4,718) rotate(-90)" x="0" y="0" font-family="'Liberation Sans', Arial, sans-serif" font-size="21.5" fill="rgb(230,175,45)" textLength="26.73" lengthAdjust="spacingAndGlyphs" stroke="#fff" stroke-width="0.2">Low</text>
<text transform="translate(72.4,681.77) rotate(-90)" x="0" y="0" font-family="'Liberation Sans', Arial, sans-serif" font-size="21.5" fill="rgb(230,175,45)" textLength="45.37" lengthAdjust="spacingAndGlyphs" stroke="#fff" stroke-width="0.2">Clouds</text>
<text transform="translate(119,688) rotate(-90)" x="0" y="0" font-family="'Liberation Sans', Arial, sans-serif" font-size="20" fill="#000" textLength="22" lengthAdjust="spacingAndGlyphs" stroke="#fff" stroke-width="0.2">(%)</text>
<text transform="translate(136.4,889.7) rotate(-90)" x="0" y="0" font-family="'Liberation Sans', Arial, sans-serif" font-size="19.5" fill="#000" textLength="22.4" lengthAdjust="spacingAndGlyphs" stroke="#fff" stroke-width="0.2">1hr</text>
<text transform="translate(136.4,857.8) rotate(-90)" x="0" y="0" font-family="'Liberation Sans', Arial, sans-serif" font-size="19.5" fill="#000" textLength="43.94" lengthAdjust="spacingAndGlyphs" stroke="#fff" stroke-width="0.2">Precip</text>
<text transform="translate(136.4,804.35) rotate(-90)" x="0" y="0" font-family="'Liberation Sans', Arial, sans-serif" font-size="19.5" fill="#000" textLength="36.15" lengthAdjust="spacingAndGlyphs" stroke="#fff" stroke-width="0.2">(mm)</text>
<text transform="translate(13.8,823.7) scale(1.2,1)" x="0" y="0" font-family="'Liberation Sans', Arial, sans-serif" font-size="16.7" fill="rgb(30,195,30)" textLength="35.42" lengthAdjust="spacing" stroke="#fff" stroke-width="0.15">Total</text>
<text transform="translate(79.5,823.7) scale(1.2,1)" x="0" y="0" font-family="'Liberation Sans', Arial, sans-serif" font-size="16.7" fill="rgb(30,195,30)" textLength="31" lengthAdjust="spacingAndGlyphs" stroke="#fff" stroke-width="0.15">Rain</text>
<text transform="translate(14.5,859.7) scale(1.3,1)" x="0" y="0" font-family="'Liberation Sans', Arial, sans-serif" font-size="15.5" fill="rgb(70,70,240)" textLength="62.31" lengthAdjust="spacing" stroke="#fff" stroke-width="0.15">Snow/1h</text>
<text transform="translate(53.2,887.4) scale(1.3,1)" x="0" y="0" font-family="'Liberation Sans', Arial, sans-serif" font-size="15.5" fill="rgb(70,70,240)" textLength="32.46" lengthAdjust="spacing" stroke="#fff" stroke-width="0.15">[cm]</text>
<g stroke="rgb(175,85,235)" stroke-width="1.1" fill="none" stroke-linecap="round">
<path d="M131.9 311.9L135.9 306L140 311.9M135.9 314.6V321.3M135.9 333.5V339.8M131.9 342.5L135.9 347.9L140 342.5"/>
<path d="M121 324.5L113.9 327.6L121 330.8M125.1 327.4H133.2M137.3 327.4H145.4M149.4 324.5L156.6 327.6L149.4 330.8"/>
</g>
<text transform="translate(136,299.4) scale(1.4,1)" x="0" y="0" font-family="'Liberation Sans', Arial, sans-serif" font-size="10.3" fill="rgb(175,85,235)" text-anchor="middle" stroke="#fff" stroke-width="0.2">N</text>
<text transform="translate(136.4,358.3) scale(1.25,1)" x="0" y="0" font-family="'Liberation Sans', Arial, sans-serif" font-size="10.3" fill="rgb(175,85,235)" text-anchor="middle" stroke="#fff" stroke-width="0.2">S</text>
<text transform="translate(97.9,330.4) scale(1,1)" x="0" y="0" font-family="'Liberation Sans', Arial, sans-serif" font-size="10.3" fill="rgb(175,85,235)" text-anchor="middle" stroke="#fff" stroke-width="0.2">W</text>
<text transform="translate(171.7,330.8) scale(1.3,1)" x="0" y="0" font-family="'Liberation Sans', Arial, sans-serif" font-size="10.3" fill="rgb(175,85,235)" text-anchor="middle" stroke="#fff" stroke-width="0.2">E</text>
<text x="425.6" y="973.2" font-family="'Liberation Serif', 'Times New Roman', serif" font-size="16" fill="rgb(188,214,188)" textLength="32.4" lengthAdjust="spacing">Viti</text>
<text x="424.0" y="971.6" font-family="'Liberation Serif', 'Times New Roman', serif" font-size="16" fill="rgb(40,40,40)" textLength="32.4" lengthAdjust="spacing">Viti</text>
<text transform="translate(983.9,726.5) rotate(-90)" x="0" y="0" font-family="'Liberation Serif', 'Times New Roman', serif" font-size="21" fill="rgb(206,222,206)" stroke="#fff" stroke-width="0.3" textLength="17" lengthAdjust="spacingAndGlyphs">by</text>
<text transform="translate(983.9,700.2) rotate(-90)" x="0" y="0" font-family="'Liberation Serif', 'Times New Roman', serif" font-size="21" fill="rgb(206,222,206)" stroke="#fff" stroke-width="0.3" textLength="40" lengthAdjust="spacingAndGlyphs">Angel</text>
</svg>
</body></html>
